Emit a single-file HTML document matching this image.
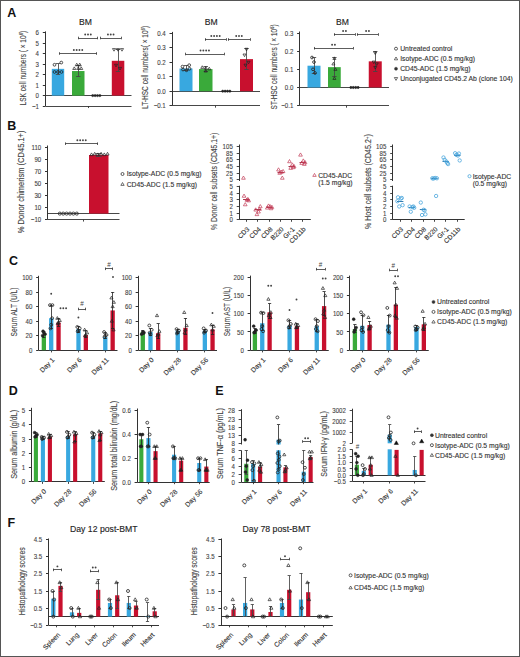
<!DOCTYPE html>
<html><head><meta charset="utf-8"><style>
html,body{margin:0;padding:0;background:#fff;}
svg{display:block;font-family:"Liberation Sans", sans-serif;}
</style></head><body>
<svg width="520" height="657" viewBox="0 0 520 657" font-family='"Liberation Sans", sans-serif'>
<rect x="0" y="0" width="520" height="657" fill="#fff"/>
<text x="7.20" y="17.20" font-size="12.5" text-anchor="start" fill="#111" font-weight="bold">A</text>
<line x1="45.50" y1="31.40" x2="45.50" y2="106.05" stroke="#333" stroke-width="1.0"/>
<line x1="42.80" y1="106.50" x2="45.40" y2="106.50" stroke="#333" stroke-width="1.0"/>
<text x="39.00" y="108.61" font-size="7.1" text-anchor="end" fill="#444" font-weight="normal" stroke="#444" stroke-width="0.12" textLength="6.96" lengthAdjust="spacingAndGlyphs">&#8722;1</text>
<line x1="42.80" y1="95.50" x2="45.40" y2="95.50" stroke="#333" stroke-width="1.0"/>
<text x="39.00" y="98.16" font-size="7.1" text-anchor="end" fill="#444" font-weight="normal" stroke="#444" stroke-width="0.12" textLength="3.4" lengthAdjust="spacingAndGlyphs">0</text>
<line x1="42.80" y1="85.50" x2="45.40" y2="85.50" stroke="#333" stroke-width="1.0"/>
<text x="39.00" y="87.71" font-size="7.1" text-anchor="end" fill="#444" font-weight="normal" stroke="#444" stroke-width="0.12" textLength="3.4" lengthAdjust="spacingAndGlyphs">1</text>
<line x1="42.80" y1="74.50" x2="45.40" y2="74.50" stroke="#333" stroke-width="1.0"/>
<text x="39.00" y="77.26" font-size="7.1" text-anchor="end" fill="#444" font-weight="normal" stroke="#444" stroke-width="0.12" textLength="3.4" lengthAdjust="spacingAndGlyphs">2</text>
<line x1="42.80" y1="64.50" x2="45.40" y2="64.50" stroke="#333" stroke-width="1.0"/>
<text x="39.00" y="66.81" font-size="7.1" text-anchor="end" fill="#444" font-weight="normal" stroke="#444" stroke-width="0.12" textLength="3.4" lengthAdjust="spacingAndGlyphs">3</text>
<line x1="42.80" y1="53.50" x2="45.40" y2="53.50" stroke="#333" stroke-width="1.0"/>
<text x="39.00" y="56.36" font-size="7.1" text-anchor="end" fill="#444" font-weight="normal" stroke="#444" stroke-width="0.12" textLength="3.4" lengthAdjust="spacingAndGlyphs">4</text>
<line x1="42.80" y1="43.50" x2="45.40" y2="43.50" stroke="#333" stroke-width="1.0"/>
<text x="39.00" y="45.91" font-size="7.1" text-anchor="end" fill="#444" font-weight="normal" stroke="#444" stroke-width="0.12" textLength="3.4" lengthAdjust="spacingAndGlyphs">5</text>
<line x1="42.80" y1="32.50" x2="45.40" y2="32.50" stroke="#333" stroke-width="1.0"/>
<text x="39.00" y="35.46" font-size="7.1" text-anchor="end" fill="#444" font-weight="normal" stroke="#444" stroke-width="0.12" textLength="3.4" lengthAdjust="spacingAndGlyphs">6</text>
<line x1="45.40" y1="95.50" x2="131.50" y2="95.50" stroke="#333" stroke-width="0.9"/>
<line x1="45.40" y1="106.50" x2="131.50" y2="106.50" stroke="#333" stroke-width="0.9"/>
<line x1="88.50" y1="106.05" x2="88.50" y2="108.05" stroke="#333" stroke-width="0.9"/>
<text x="85.50" y="25.20" font-size="8.6" text-anchor="middle" fill="#222" font-weight="normal" stroke="#222" stroke-width="0.12">BM</text>
<text x="26.10" y="68.10" font-size="8.6" text-anchor="middle" fill="#444" font-weight="normal" stroke="#444" stroke-width="0.12" transform="rotate(-90 26.10 68.10)" textLength="74.6" lengthAdjust="spacingAndGlyphs">LSK cell numbers ( × 10<tspan font-size="5.6" dy="-2.8">6</tspan><tspan dy="2.8">)</tspan></text>
<rect x="51.80" y="68.85" width="12.40" height="26.75" fill="#38a8e0"/>
<rect x="72.00" y="71.04" width="12.50" height="24.56" fill="#3aaa3a"/>
<rect x="111.80" y="60.80" width="12.50" height="34.80" fill="#c8102e"/>
<line x1="58.50" y1="74.07" x2="58.50" y2="63.73" stroke="#444" stroke-width="0.85"/>
<line x1="55.80" y1="63.50" x2="60.20" y2="63.50" stroke="#444" stroke-width="0.85"/>
<line x1="55.80" y1="74.50" x2="60.20" y2="74.50" stroke="#444" stroke-width="0.85"/>
<line x1="78.50" y1="76.79" x2="78.50" y2="65.30" stroke="#444" stroke-width="0.85"/>
<line x1="76.05" y1="65.50" x2="80.45" y2="65.50" stroke="#444" stroke-width="0.85"/>
<line x1="76.05" y1="76.50" x2="80.45" y2="76.50" stroke="#444" stroke-width="0.85"/>
<line x1="118.50" y1="71.56" x2="118.50" y2="49.62" stroke="#444" stroke-width="0.85"/>
<line x1="115.80" y1="49.50" x2="120.20" y2="49.50" stroke="#444" stroke-width="0.85"/>
<line x1="115.80" y1="71.50" x2="120.20" y2="71.50" stroke="#444" stroke-width="0.85"/>
<circle cx="54.50" cy="64.77" r="1.38" fill="none" stroke="#222" stroke-width="0.8"/>
<circle cx="61.30" cy="62.58" r="1.38" fill="none" stroke="#222" stroke-width="0.8"/>
<circle cx="54.50" cy="71.98" r="1.38" fill="none" stroke="#222" stroke-width="0.8"/>
<circle cx="58.00" cy="71.98" r="1.38" fill="none" stroke="#222" stroke-width="0.8"/>
<circle cx="61.50" cy="71.98" r="1.38" fill="none" stroke="#222" stroke-width="0.8"/>
<path d="M76.75 63.20 L78.27 65.82 L75.23 65.82 Z" fill="none" stroke="#222" stroke-width="0.7"/>
<path d="M79.75 63.20 L81.27 65.82 L78.23 65.82 Z" fill="none" stroke="#222" stroke-width="0.7"/>
<path d="M74.25 66.86 L75.77 69.48 L72.73 69.48 Z" fill="none" stroke="#222" stroke-width="0.7"/>
<path d="M78.25 66.86 L79.77 69.48 L76.73 69.48 Z" fill="none" stroke="#222" stroke-width="0.7"/>
<path d="M81.25 66.86 L82.77 69.48 L79.73 69.48 Z" fill="none" stroke="#222" stroke-width="0.7"/>
<circle cx="92.70" cy="95.60" r="1.14" fill="#222" stroke="#222" stroke-width="0.5"/>
<circle cx="95.10" cy="95.60" r="1.14" fill="#222" stroke="#222" stroke-width="0.5"/>
<circle cx="97.50" cy="95.60" r="1.14" fill="#222" stroke="#222" stroke-width="0.5"/>
<circle cx="99.90" cy="95.60" r="1.14" fill="#222" stroke="#222" stroke-width="0.5"/>
<path d="M114.00 51.19 L115.52 48.57 L112.48 48.57 Z" fill="none" stroke="#222" stroke-width="0.7"/>
<path d="M118.00 51.19 L119.52 48.57 L116.48 48.57 Z" fill="none" stroke="#222" stroke-width="0.7"/>
<path d="M122.00 51.19 L123.52 48.57 L120.48 48.57 Z" fill="none" stroke="#222" stroke-width="0.7"/>
<path d="M116.00 66.87 L117.52 64.25 L114.48 64.25 Z" fill="none" stroke="#222" stroke-width="0.7"/>
<path d="M120.00 70.00 L121.52 67.38 L118.48 67.38 Z" fill="none" stroke="#222" stroke-width="0.7"/>
<line x1="59.40" y1="53.50" x2="96.70" y2="53.50" stroke="#333" stroke-width="0.8"/>
<line x1="59.50" y1="52.20" x2="59.50" y2="54.80" stroke="#333" stroke-width="0.8"/>
<line x1="96.50" y1="52.20" x2="96.50" y2="54.80" stroke="#333" stroke-width="0.8"/>
<circle cx="73.85" cy="50.00" r="0.95" fill="#444"/>
<circle cx="76.65" cy="50.00" r="0.95" fill="#444"/>
<circle cx="79.45" cy="50.00" r="0.95" fill="#444"/>
<circle cx="82.25" cy="50.00" r="0.95" fill="#444"/>
<line x1="78.40" y1="38.50" x2="97.60" y2="38.50" stroke="#333" stroke-width="0.8"/>
<line x1="78.50" y1="36.70" x2="78.50" y2="39.30" stroke="#333" stroke-width="0.8"/>
<line x1="97.50" y1="36.70" x2="97.50" y2="39.30" stroke="#333" stroke-width="0.8"/>
<circle cx="85.20" cy="34.50" r="0.95" fill="#444"/>
<circle cx="88.00" cy="34.50" r="0.95" fill="#444"/>
<circle cx="90.80" cy="34.50" r="0.95" fill="#444"/>
<line x1="100.50" y1="38.50" x2="121.00" y2="38.50" stroke="#333" stroke-width="0.8"/>
<line x1="100.50" y1="36.70" x2="100.50" y2="39.30" stroke="#333" stroke-width="0.8"/>
<line x1="121.50" y1="36.70" x2="121.50" y2="39.30" stroke="#333" stroke-width="0.8"/>
<circle cx="107.95" cy="34.50" r="0.95" fill="#444"/>
<circle cx="110.75" cy="34.50" r="0.95" fill="#444"/>
<circle cx="113.55" cy="34.50" r="0.95" fill="#444"/>
<line x1="172.50" y1="31.90" x2="172.50" y2="105.65" stroke="#333" stroke-width="1.0"/>
<line x1="169.50" y1="33.50" x2="172.10" y2="33.50" stroke="#333" stroke-width="1.0"/>
<text x="165.70" y="35.96" font-size="7.1" text-anchor="end" fill="#444" font-weight="normal" stroke="#444" stroke-width="0.12" textLength="8.49" lengthAdjust="spacingAndGlyphs">0.4</text>
<line x1="169.50" y1="47.50" x2="172.10" y2="47.50" stroke="#333" stroke-width="1.0"/>
<text x="165.70" y="50.41" font-size="7.1" text-anchor="end" fill="#444" font-weight="normal" stroke="#444" stroke-width="0.12" textLength="8.49" lengthAdjust="spacingAndGlyphs">0.3</text>
<line x1="169.50" y1="62.50" x2="172.10" y2="62.50" stroke="#333" stroke-width="1.0"/>
<text x="165.70" y="64.86" font-size="7.1" text-anchor="end" fill="#444" font-weight="normal" stroke="#444" stroke-width="0.12" textLength="8.49" lengthAdjust="spacingAndGlyphs">0.2</text>
<line x1="169.50" y1="76.50" x2="172.10" y2="76.50" stroke="#333" stroke-width="1.0"/>
<text x="165.70" y="79.31" font-size="7.1" text-anchor="end" fill="#444" font-weight="normal" stroke="#444" stroke-width="0.12" textLength="8.49" lengthAdjust="spacingAndGlyphs">0.1</text>
<line x1="169.50" y1="91.50" x2="172.10" y2="91.50" stroke="#333" stroke-width="1.0"/>
<text x="165.70" y="93.76" font-size="7.1" text-anchor="end" fill="#444" font-weight="normal" stroke="#444" stroke-width="0.12" textLength="8.49" lengthAdjust="spacingAndGlyphs">0.0</text>
<line x1="169.50" y1="105.50" x2="172.10" y2="105.50" stroke="#333" stroke-width="1.0"/>
<text x="165.70" y="108.21" font-size="7.1" text-anchor="end" fill="#444" font-weight="normal" stroke="#444" stroke-width="0.12" textLength="12.05" lengthAdjust="spacingAndGlyphs">&#8722;0.1</text>
<line x1="172.10" y1="91.50" x2="260.00" y2="91.50" stroke="#333" stroke-width="0.9"/>
<line x1="172.10" y1="105.50" x2="260.00" y2="105.50" stroke="#333" stroke-width="0.9"/>
<line x1="215.50" y1="105.65" x2="215.50" y2="107.65" stroke="#333" stroke-width="0.9"/>
<text x="211.30" y="25.20" font-size="8.6" text-anchor="middle" fill="#222" font-weight="normal" stroke="#222" stroke-width="0.12">BM</text>
<text x="148.00" y="67.40" font-size="8.6" text-anchor="middle" fill="#444" font-weight="normal" stroke="#444" stroke-width="0.12" transform="rotate(-90 148.00 67.40)" textLength="83" lengthAdjust="spacingAndGlyphs">LT-HSC cell numbers( × 10<tspan font-size="5.6" dy="-2.8">6</tspan><tspan dy="2.8">)</tspan></text>
<rect x="179.50" y="68.51" width="13.00" height="22.69" fill="#38a8e0"/>
<rect x="199.00" y="69.09" width="13.50" height="22.11" fill="#3aaa3a"/>
<rect x="240.00" y="59.12" width="13.00" height="32.08" fill="#c8102e"/>
<line x1="186.50" y1="70.97" x2="186.50" y2="65.19" stroke="#444" stroke-width="0.85"/>
<line x1="183.80" y1="65.50" x2="188.20" y2="65.50" stroke="#444" stroke-width="0.85"/>
<line x1="183.80" y1="70.50" x2="188.20" y2="70.50" stroke="#444" stroke-width="0.85"/>
<line x1="205.50" y1="71.69" x2="205.50" y2="66.63" stroke="#444" stroke-width="0.85"/>
<line x1="203.55" y1="66.50" x2="207.95" y2="66.50" stroke="#444" stroke-width="0.85"/>
<line x1="203.55" y1="71.50" x2="207.95" y2="71.50" stroke="#444" stroke-width="0.85"/>
<line x1="246.50" y1="69.53" x2="246.50" y2="48.57" stroke="#444" stroke-width="0.85"/>
<line x1="244.30" y1="48.50" x2="248.70" y2="48.50" stroke="#444" stroke-width="0.85"/>
<line x1="244.30" y1="69.50" x2="248.70" y2="69.50" stroke="#444" stroke-width="0.85"/>
<circle cx="182.50" cy="66.63" r="1.38" fill="none" stroke="#222" stroke-width="0.8"/>
<circle cx="189.20" cy="65.19" r="1.38" fill="none" stroke="#222" stroke-width="0.8"/>
<circle cx="183.00" cy="69.53" r="1.38" fill="none" stroke="#222" stroke-width="0.8"/>
<circle cx="186.50" cy="70.25" r="1.38" fill="none" stroke="#222" stroke-width="0.8"/>
<circle cx="189.50" cy="68.80" r="1.38" fill="none" stroke="#222" stroke-width="0.8"/>
<path d="M202.25 65.78 L203.77 68.41 L200.73 68.41 Z" fill="none" stroke="#222" stroke-width="0.7"/>
<path d="M205.75 66.51 L207.27 69.13 L204.23 69.13 Z" fill="none" stroke="#222" stroke-width="0.7"/>
<path d="M209.25 67.23 L210.77 69.85 L207.73 69.85 Z" fill="none" stroke="#222" stroke-width="0.7"/>
<path d="M205.75 69.40 L207.27 72.02 L204.23 72.02 Z" fill="none" stroke="#222" stroke-width="0.7"/>
<circle cx="222.70" cy="91.20" r="1.14" fill="#222" stroke="#222" stroke-width="0.5"/>
<circle cx="225.10" cy="91.20" r="1.14" fill="#222" stroke="#222" stroke-width="0.5"/>
<circle cx="227.50" cy="91.20" r="1.14" fill="#222" stroke="#222" stroke-width="0.5"/>
<circle cx="229.90" cy="91.20" r="1.14" fill="#222" stroke="#222" stroke-width="0.5"/>
<path d="M246.50 50.87 L248.02 48.25 L244.98 48.25 Z" fill="none" stroke="#222" stroke-width="0.7"/>
<path d="M244.50 56.65 L246.02 54.03 L242.98 54.03 Z" fill="none" stroke="#222" stroke-width="0.7"/>
<path d="M248.50 63.87 L250.02 61.25 L246.98 61.25 Z" fill="none" stroke="#222" stroke-width="0.7"/>
<path d="M245.50 66.76 L247.02 64.14 L243.98 64.14 Z" fill="none" stroke="#222" stroke-width="0.7"/>
<line x1="185.50" y1="54.50" x2="224.00" y2="54.50" stroke="#333" stroke-width="0.8"/>
<line x1="185.50" y1="52.70" x2="185.50" y2="55.30" stroke="#333" stroke-width="0.8"/>
<line x1="224.50" y1="52.70" x2="224.50" y2="55.30" stroke="#333" stroke-width="0.8"/>
<circle cx="200.55" cy="50.50" r="0.95" fill="#444"/>
<circle cx="203.35" cy="50.50" r="0.95" fill="#444"/>
<circle cx="206.15" cy="50.50" r="0.95" fill="#444"/>
<circle cx="208.95" cy="50.50" r="0.95" fill="#444"/>
<line x1="205.00" y1="39.50" x2="226.00" y2="39.50" stroke="#333" stroke-width="0.8"/>
<line x1="205.50" y1="38.20" x2="205.50" y2="40.80" stroke="#333" stroke-width="0.8"/>
<line x1="226.50" y1="38.20" x2="226.50" y2="40.80" stroke="#333" stroke-width="0.8"/>
<circle cx="211.30" cy="36.00" r="0.95" fill="#444"/>
<circle cx="214.10" cy="36.00" r="0.95" fill="#444"/>
<circle cx="216.90" cy="36.00" r="0.95" fill="#444"/>
<circle cx="219.70" cy="36.00" r="0.95" fill="#444"/>
<line x1="228.00" y1="39.50" x2="250.00" y2="39.50" stroke="#333" stroke-width="0.8"/>
<line x1="228.50" y1="38.20" x2="228.50" y2="40.80" stroke="#333" stroke-width="0.8"/>
<line x1="250.50" y1="38.20" x2="250.50" y2="40.80" stroke="#333" stroke-width="0.8"/>
<circle cx="236.20" cy="36.00" r="0.95" fill="#444"/>
<circle cx="239.00" cy="36.00" r="0.95" fill="#444"/>
<circle cx="241.80" cy="36.00" r="0.95" fill="#444"/>
<line x1="299.50" y1="31.50" x2="299.50" y2="105.67" stroke="#333" stroke-width="1.0"/>
<line x1="297.10" y1="33.50" x2="299.70" y2="33.50" stroke="#333" stroke-width="1.0"/>
<text x="293.30" y="35.56" font-size="7.1" text-anchor="end" fill="#444" font-weight="normal" stroke="#444" stroke-width="0.12" textLength="8.49" lengthAdjust="spacingAndGlyphs">0.3</text>
<line x1="297.10" y1="51.50" x2="299.70" y2="51.50" stroke="#333" stroke-width="1.0"/>
<text x="293.30" y="53.72" font-size="7.1" text-anchor="end" fill="#444" font-weight="normal" stroke="#444" stroke-width="0.12" textLength="8.49" lengthAdjust="spacingAndGlyphs">0.2</text>
<line x1="297.10" y1="69.50" x2="299.70" y2="69.50" stroke="#333" stroke-width="1.0"/>
<text x="293.30" y="71.89" font-size="7.1" text-anchor="end" fill="#444" font-weight="normal" stroke="#444" stroke-width="0.12" textLength="8.49" lengthAdjust="spacingAndGlyphs">0.1</text>
<line x1="297.10" y1="87.50" x2="299.70" y2="87.50" stroke="#333" stroke-width="1.0"/>
<text x="293.30" y="90.06" font-size="7.1" text-anchor="end" fill="#444" font-weight="normal" stroke="#444" stroke-width="0.12" textLength="8.49" lengthAdjust="spacingAndGlyphs">0.0</text>
<line x1="297.10" y1="105.50" x2="299.70" y2="105.50" stroke="#333" stroke-width="1.0"/>
<text x="293.30" y="108.22" font-size="7.1" text-anchor="end" fill="#444" font-weight="normal" stroke="#444" stroke-width="0.12" textLength="12.05" lengthAdjust="spacingAndGlyphs">&#8722;0.1</text>
<line x1="299.70" y1="87.50" x2="389.00" y2="87.50" stroke="#333" stroke-width="0.9"/>
<line x1="299.70" y1="105.50" x2="389.00" y2="105.50" stroke="#333" stroke-width="0.9"/>
<line x1="346.50" y1="105.67" x2="346.50" y2="107.67" stroke="#333" stroke-width="0.9"/>
<text x="342.50" y="25.20" font-size="8.6" text-anchor="middle" fill="#222" font-weight="normal" stroke="#222" stroke-width="0.12">BM</text>
<text x="277.10" y="66.90" font-size="8.6" text-anchor="middle" fill="#444" font-weight="normal" stroke="#444" stroke-width="0.12" transform="rotate(-90 277.10 66.90)" textLength="85" lengthAdjust="spacingAndGlyphs">ST-HSC cell numbers ( × 10<tspan font-size="5.6" dy="-2.8">6</tspan><tspan dy="2.8">)</tspan></text>
<rect x="307.50" y="65.70" width="13.00" height="21.80" fill="#38a8e0"/>
<rect x="328.00" y="67.15" width="12.75" height="20.35" fill="#3aaa3a"/>
<rect x="368.75" y="61.34" width="13.00" height="26.16" fill="#c8102e"/>
<line x1="314.50" y1="73.88" x2="314.50" y2="57.52" stroke="#444" stroke-width="0.85"/>
<line x1="311.80" y1="57.50" x2="316.20" y2="57.50" stroke="#444" stroke-width="0.85"/>
<line x1="311.80" y1="73.50" x2="316.20" y2="73.50" stroke="#444" stroke-width="0.85"/>
<line x1="334.50" y1="76.60" x2="334.50" y2="57.52" stroke="#444" stroke-width="0.85"/>
<line x1="332.20" y1="57.50" x2="336.60" y2="57.50" stroke="#444" stroke-width="0.85"/>
<line x1="332.20" y1="76.50" x2="336.60" y2="76.50" stroke="#444" stroke-width="0.85"/>
<line x1="375.50" y1="71.15" x2="375.50" y2="51.17" stroke="#444" stroke-width="0.85"/>
<line x1="373.05" y1="51.50" x2="377.45" y2="51.50" stroke="#444" stroke-width="0.85"/>
<line x1="373.05" y1="71.50" x2="377.45" y2="71.50" stroke="#444" stroke-width="0.85"/>
<circle cx="312.00" cy="57.52" r="1.38" fill="none" stroke="#222" stroke-width="0.8"/>
<circle cx="314.00" cy="62.07" r="1.38" fill="none" stroke="#222" stroke-width="0.8"/>
<circle cx="313.00" cy="69.33" r="1.38" fill="none" stroke="#222" stroke-width="0.8"/>
<circle cx="315.00" cy="72.97" r="1.38" fill="none" stroke="#222" stroke-width="0.8"/>
<path d="M334.40 56.86 L335.92 59.48 L332.88 59.48 Z" fill="none" stroke="#222" stroke-width="0.7"/>
<path d="M333.40 62.31 L334.92 64.93 L331.88 64.93 Z" fill="none" stroke="#222" stroke-width="0.7"/>
<path d="M335.40 67.76 L336.92 70.38 L333.88 70.38 Z" fill="none" stroke="#222" stroke-width="0.7"/>
<path d="M334.40 76.84 L335.92 79.47 L332.88 79.47 Z" fill="none" stroke="#222" stroke-width="0.7"/>
<circle cx="350.90" cy="87.50" r="1.14" fill="#222" stroke="#222" stroke-width="0.5"/>
<circle cx="353.30" cy="87.50" r="1.14" fill="#222" stroke="#222" stroke-width="0.5"/>
<circle cx="355.70" cy="87.50" r="1.14" fill="#222" stroke="#222" stroke-width="0.5"/>
<circle cx="358.10" cy="87.50" r="1.14" fill="#222" stroke="#222" stroke-width="0.5"/>
<path d="M375.25 54.56 L376.77 51.93 L373.73 51.93 Z" fill="none" stroke="#222" stroke-width="0.7"/>
<path d="M373.75 63.64 L375.27 61.02 L372.23 61.02 Z" fill="none" stroke="#222" stroke-width="0.7"/>
<path d="M376.75 65.46 L378.27 62.83 L375.23 62.83 Z" fill="none" stroke="#222" stroke-width="0.7"/>
<path d="M375.25 69.09 L376.77 66.47 L373.73 66.47 Z" fill="none" stroke="#222" stroke-width="0.7"/>
<line x1="314.00" y1="48.50" x2="353.00" y2="48.50" stroke="#333" stroke-width="0.8"/>
<line x1="314.50" y1="46.95" x2="314.50" y2="49.55" stroke="#333" stroke-width="0.8"/>
<line x1="353.50" y1="46.95" x2="353.50" y2="49.55" stroke="#333" stroke-width="0.8"/>
<circle cx="332.10" cy="44.75" r="0.95" fill="#444"/>
<circle cx="334.90" cy="44.75" r="0.95" fill="#444"/>
<line x1="334.00" y1="34.50" x2="355.00" y2="34.50" stroke="#333" stroke-width="0.8"/>
<line x1="334.50" y1="33.20" x2="334.50" y2="35.80" stroke="#333" stroke-width="0.8"/>
<line x1="355.50" y1="33.20" x2="355.50" y2="35.80" stroke="#333" stroke-width="0.8"/>
<circle cx="343.10" cy="31.00" r="0.95" fill="#444"/>
<circle cx="345.90" cy="31.00" r="0.95" fill="#444"/>
<line x1="357.00" y1="34.50" x2="378.00" y2="34.50" stroke="#333" stroke-width="0.8"/>
<line x1="357.50" y1="33.20" x2="357.50" y2="35.80" stroke="#333" stroke-width="0.8"/>
<line x1="378.50" y1="33.20" x2="378.50" y2="35.80" stroke="#333" stroke-width="0.8"/>
<circle cx="366.10" cy="31.00" r="0.95" fill="#444"/>
<circle cx="368.90" cy="31.00" r="0.95" fill="#444"/>
<circle cx="396.00" cy="48.70" r="1.5" fill="none" stroke="#333" stroke-width="0.8"/>
<text x="400.20" y="51.00" font-size="6.8" text-anchor="start" fill="#333" font-weight="normal" stroke="#333" stroke-width="0.12">Untreated control</text>
<path d="M396.00 56.99 L397.65 59.84 L394.35 59.84 Z" fill="none" stroke="#333" stroke-width="0.7"/>
<text x="400.20" y="61.00" font-size="6.8" text-anchor="start" fill="#333" font-weight="normal" stroke="#333" stroke-width="0.12">Isotype-ADC (0.5 mg/kg)</text>
<circle cx="396.00" cy="68.70" r="1.5" fill="#333" stroke="#333" stroke-width="0.5"/>
<text x="400.20" y="71.00" font-size="6.8" text-anchor="start" fill="#333" font-weight="normal" stroke="#333" stroke-width="0.12">CD45-ADC (1.5 mg/kg)</text>
<path d="M396.00 80.41 L397.65 77.56 L394.35 77.56 Z" fill="none" stroke="#333" stroke-width="0.7"/>
<text x="400.20" y="81.00" font-size="6.8" text-anchor="start" fill="#333" font-weight="normal" stroke="#333" stroke-width="0.12">Unconjugated CD45.2 Ab (clone 104)</text>
<text x="7.20" y="129.60" font-size="12.5" text-anchor="start" fill="#111" font-weight="bold">B</text>
<line x1="47.50" y1="145.50" x2="47.50" y2="219.59" stroke="#333" stroke-width="1.0"/>
<line x1="45.00" y1="147.50" x2="47.60" y2="147.50" stroke="#333" stroke-width="1.0"/>
<text x="41.20" y="150.21" font-size="7.1" text-anchor="end" fill="#444" font-weight="normal" stroke="#444" stroke-width="0.12" textLength="9.73" lengthAdjust="spacingAndGlyphs">110</text>
<line x1="45.00" y1="159.50" x2="47.60" y2="159.50" stroke="#333" stroke-width="1.0"/>
<text x="41.20" y="162.20" font-size="7.1" text-anchor="end" fill="#444" font-weight="normal" stroke="#444" stroke-width="0.12" textLength="6.79" lengthAdjust="spacingAndGlyphs">90</text>
<line x1="45.00" y1="171.50" x2="47.60" y2="171.50" stroke="#333" stroke-width="1.0"/>
<text x="41.20" y="174.19" font-size="7.1" text-anchor="end" fill="#444" font-weight="normal" stroke="#444" stroke-width="0.12" textLength="6.79" lengthAdjust="spacingAndGlyphs">70</text>
<line x1="45.00" y1="183.50" x2="47.60" y2="183.50" stroke="#333" stroke-width="1.0"/>
<text x="41.20" y="186.18" font-size="7.1" text-anchor="end" fill="#444" font-weight="normal" stroke="#444" stroke-width="0.12" textLength="6.79" lengthAdjust="spacingAndGlyphs">50</text>
<line x1="45.00" y1="195.50" x2="47.60" y2="195.50" stroke="#333" stroke-width="1.0"/>
<text x="41.20" y="198.17" font-size="7.1" text-anchor="end" fill="#444" font-weight="normal" stroke="#444" stroke-width="0.12" textLength="6.79" lengthAdjust="spacingAndGlyphs">30</text>
<line x1="45.00" y1="207.50" x2="47.60" y2="207.50" stroke="#333" stroke-width="1.0"/>
<text x="41.20" y="210.16" font-size="7.1" text-anchor="end" fill="#444" font-weight="normal" stroke="#444" stroke-width="0.12" textLength="6.79" lengthAdjust="spacingAndGlyphs">10</text>
<line x1="45.00" y1="219.50" x2="47.60" y2="219.50" stroke="#333" stroke-width="1.0"/>
<text x="41.20" y="222.15" font-size="7.1" text-anchor="end" fill="#444" font-weight="normal" stroke="#444" stroke-width="0.12" textLength="10.36" lengthAdjust="spacingAndGlyphs">&#8722;10</text>
<line x1="47.60" y1="213.50" x2="119.50" y2="213.50" stroke="#333" stroke-width="0.9"/>
<line x1="47.60" y1="219.50" x2="119.50" y2="219.50" stroke="#333" stroke-width="0.9"/>
<line x1="83.50" y1="219.59" x2="83.50" y2="221.59" stroke="#333" stroke-width="0.9"/>
<text x="24.30" y="181.85" font-size="8.6" text-anchor="middle" fill="#444" font-weight="normal" stroke="#444" stroke-width="0.12" transform="rotate(-90 24.30 181.85)" textLength="102.7" lengthAdjust="spacingAndGlyphs">% Donor chimerism (CD45.1+)</text>
<rect x="89.00" y="155.03" width="19.50" height="58.57" fill="#c8102e"/>
<line x1="98.50" y1="156.05" x2="98.50" y2="153.95" stroke="#444" stroke-width="0.85"/>
<line x1="95.75" y1="153.50" x2="101.75" y2="153.50" stroke="#444" stroke-width="0.85"/>
<line x1="95.75" y1="156.50" x2="101.75" y2="156.50" stroke="#444" stroke-width="0.85"/>
<circle cx="59.80" cy="213.60" r="1.56" fill="none" stroke="#222" stroke-width="0.8"/>
<circle cx="63.20" cy="213.60" r="1.56" fill="none" stroke="#222" stroke-width="0.8"/>
<circle cx="66.60" cy="213.60" r="1.56" fill="none" stroke="#222" stroke-width="0.8"/>
<circle cx="70.00" cy="213.60" r="1.56" fill="none" stroke="#222" stroke-width="0.8"/>
<circle cx="73.40" cy="213.60" r="1.56" fill="none" stroke="#222" stroke-width="0.8"/>
<circle cx="76.80" cy="213.60" r="1.56" fill="none" stroke="#222" stroke-width="0.8"/>
<path d="M91.50 152.91 L93.08 155.64 L89.92 155.64 Z" fill="none" stroke="#222" stroke-width="0.7"/>
<path d="M94.70 152.31 L96.28 155.04 L93.12 155.04 Z" fill="none" stroke="#222" stroke-width="0.7"/>
<path d="M97.90 152.91 L99.48 155.64 L96.32 155.64 Z" fill="none" stroke="#222" stroke-width="0.7"/>
<path d="M101.10 152.31 L102.68 155.04 L99.52 155.04 Z" fill="none" stroke="#222" stroke-width="0.7"/>
<path d="M104.30 152.91 L105.88 155.64 L102.72 155.64 Z" fill="none" stroke="#222" stroke-width="0.7"/>
<path d="M107.50 152.31 L109.08 155.04 L105.92 155.04 Z" fill="none" stroke="#222" stroke-width="0.7"/>
<line x1="65.30" y1="143.50" x2="97.80" y2="143.50" stroke="#333" stroke-width="0.8"/>
<line x1="65.50" y1="142.40" x2="65.50" y2="145.00" stroke="#333" stroke-width="0.8"/>
<line x1="97.50" y1="142.40" x2="97.50" y2="145.00" stroke="#333" stroke-width="0.8"/>
<circle cx="77.35" cy="140.20" r="0.95" fill="#444"/>
<circle cx="80.15" cy="140.20" r="0.95" fill="#444"/>
<circle cx="82.95" cy="140.20" r="0.95" fill="#444"/>
<circle cx="85.75" cy="140.20" r="0.95" fill="#444"/>
<circle cx="122.50" cy="174.00" r="1.5" fill="none" stroke="#333" stroke-width="0.8"/>
<text x="126.70" y="176.30" font-size="6.8" text-anchor="start" fill="#333" font-weight="normal" stroke="#333" stroke-width="0.12">Isotype-ADC (0.5 mg/kg)</text>
<path d="M122.50 182.54 L124.15 185.39 L120.85 185.39 Z" fill="none" stroke="#333" stroke-width="0.7"/>
<text x="126.70" y="186.55" font-size="6.8" text-anchor="start" fill="#333" font-weight="normal" stroke="#333" stroke-width="0.12">CD45-ADC (1.5 mg/kg)</text>
<line x1="239.50" y1="144.50" x2="239.50" y2="181.00" stroke="#333" stroke-width="1.0"/>
<line x1="239.50" y1="185.70" x2="239.50" y2="219.60" stroke="#333" stroke-width="1.0"/>
<line x1="236.70" y1="146.50" x2="239.30" y2="146.50" stroke="#333" stroke-width="0.9"/>
<text x="232.80" y="149.16" font-size="7.1" text-anchor="end" fill="#444" font-weight="normal" stroke="#444" stroke-width="0.12" textLength="10.19" lengthAdjust="spacingAndGlyphs">105</text>
<line x1="236.70" y1="153.50" x2="239.30" y2="153.50" stroke="#333" stroke-width="0.9"/>
<text x="232.80" y="155.76" font-size="7.1" text-anchor="end" fill="#444" font-weight="normal" stroke="#444" stroke-width="0.12" textLength="6.79" lengthAdjust="spacingAndGlyphs">85</text>
<line x1="236.70" y1="159.50" x2="239.30" y2="159.50" stroke="#333" stroke-width="0.9"/>
<text x="232.80" y="162.36" font-size="7.1" text-anchor="end" fill="#444" font-weight="normal" stroke="#444" stroke-width="0.12" textLength="6.79" lengthAdjust="spacingAndGlyphs">65</text>
<line x1="236.70" y1="166.50" x2="239.30" y2="166.50" stroke="#333" stroke-width="0.9"/>
<text x="232.80" y="168.96" font-size="7.1" text-anchor="end" fill="#444" font-weight="normal" stroke="#444" stroke-width="0.12" textLength="6.79" lengthAdjust="spacingAndGlyphs">45</text>
<line x1="236.70" y1="173.50" x2="239.30" y2="173.50" stroke="#333" stroke-width="0.9"/>
<text x="232.80" y="175.56" font-size="7.1" text-anchor="end" fill="#444" font-weight="normal" stroke="#444" stroke-width="0.12" textLength="6.79" lengthAdjust="spacingAndGlyphs">25</text>
<line x1="236.70" y1="179.50" x2="239.30" y2="179.50" stroke="#333" stroke-width="0.9"/>
<text x="232.80" y="182.16" font-size="7.1" text-anchor="end" fill="#444" font-weight="normal" stroke="#444" stroke-width="0.12" textLength="3.4" lengthAdjust="spacingAndGlyphs">5</text>
<line x1="236.70" y1="186.50" x2="239.30" y2="186.50" stroke="#333" stroke-width="0.9"/>
<text x="232.80" y="189.36" font-size="7.1" text-anchor="end" fill="#444" font-weight="normal" stroke="#444" stroke-width="0.12" textLength="3.4" lengthAdjust="spacingAndGlyphs">5</text>
<line x1="236.70" y1="193.50" x2="239.30" y2="193.50" stroke="#333" stroke-width="0.9"/>
<text x="232.80" y="195.92" font-size="7.1" text-anchor="end" fill="#444" font-weight="normal" stroke="#444" stroke-width="0.12" textLength="3.4" lengthAdjust="spacingAndGlyphs">4</text>
<line x1="236.70" y1="199.50" x2="239.30" y2="199.50" stroke="#333" stroke-width="0.9"/>
<text x="232.80" y="202.48" font-size="7.1" text-anchor="end" fill="#444" font-weight="normal" stroke="#444" stroke-width="0.12" textLength="3.4" lengthAdjust="spacingAndGlyphs">3</text>
<line x1="236.70" y1="206.50" x2="239.30" y2="206.50" stroke="#333" stroke-width="0.9"/>
<text x="232.80" y="209.04" font-size="7.1" text-anchor="end" fill="#444" font-weight="normal" stroke="#444" stroke-width="0.12" textLength="3.4" lengthAdjust="spacingAndGlyphs">2</text>
<line x1="236.70" y1="213.50" x2="239.30" y2="213.50" stroke="#333" stroke-width="0.9"/>
<text x="232.80" y="215.60" font-size="7.1" text-anchor="end" fill="#444" font-weight="normal" stroke="#444" stroke-width="0.12" textLength="3.4" lengthAdjust="spacingAndGlyphs">1</text>
<line x1="236.70" y1="219.50" x2="239.30" y2="219.50" stroke="#333" stroke-width="0.9"/>
<text x="232.80" y="222.16" font-size="7.1" text-anchor="end" fill="#444" font-weight="normal" stroke="#444" stroke-width="0.12" textLength="3.4" lengthAdjust="spacingAndGlyphs">0</text>
<line x1="239.30" y1="219.50" x2="310.80" y2="219.50" stroke="#333" stroke-width="1.0"/>
<line x1="246.50" y1="219.60" x2="246.50" y2="221.80" stroke="#333" stroke-width="0.9"/>
<text x="249.75" y="229.60" font-size="6.6" text-anchor="end" fill="#333" font-weight="normal" stroke="#333" stroke-width="0.12" transform="rotate(-45 249.75 229.60)">CD3</text>
<line x1="257.50" y1="219.60" x2="257.50" y2="221.80" stroke="#333" stroke-width="0.9"/>
<text x="261.40" y="229.60" font-size="6.6" text-anchor="end" fill="#333" font-weight="normal" stroke="#333" stroke-width="0.12" transform="rotate(-45 261.40 229.60)">CD4</text>
<line x1="269.50" y1="219.60" x2="269.50" y2="221.80" stroke="#333" stroke-width="0.9"/>
<text x="273.00" y="229.60" font-size="6.6" text-anchor="end" fill="#333" font-weight="normal" stroke="#333" stroke-width="0.12" transform="rotate(-45 273.00 229.60)">CD8</text>
<line x1="280.50" y1="219.60" x2="280.50" y2="221.80" stroke="#333" stroke-width="0.9"/>
<text x="284.20" y="229.60" font-size="6.6" text-anchor="end" fill="#333" font-weight="normal" stroke="#333" stroke-width="0.12" transform="rotate(-45 284.20 229.60)">B220</text>
<line x1="291.50" y1="219.60" x2="291.50" y2="221.80" stroke="#333" stroke-width="0.9"/>
<text x="295.20" y="229.60" font-size="6.6" text-anchor="end" fill="#333" font-weight="normal" stroke="#333" stroke-width="0.12" transform="rotate(-45 295.20 229.60)">Gr-1</text>
<line x1="302.50" y1="219.60" x2="302.50" y2="221.80" stroke="#333" stroke-width="0.9"/>
<text x="306.20" y="229.60" font-size="6.6" text-anchor="end" fill="#333" font-weight="normal" stroke="#333" stroke-width="0.12" transform="rotate(-45 306.20 229.60)">CD11b</text>
<text x="216.90" y="181.30" font-size="8.6" text-anchor="middle" fill="#444" font-weight="normal" stroke="#444" stroke-width="0.12" transform="rotate(-90 216.90 181.30)" textLength="97.2" lengthAdjust="spacingAndGlyphs">% Donor cell subsets (CD45.1+)</text>
<line x1="243.05" y1="199.50" x2="249.45" y2="199.50" stroke="#a0203a" stroke-width="0.9"/>
<path d="M244.05 194.07 L245.90 197.26 L242.20 197.26 Z" fill="none" stroke="#c23a55" stroke-width="0.7"/>
<path d="M246.85 198.00 L248.70 201.20 L245.00 201.20 Z" fill="none" stroke="#c23a55" stroke-width="0.7"/>
<path d="M248.65 198.66 L250.50 201.85 L246.80 201.85 Z" fill="none" stroke="#c23a55" stroke-width="0.7"/>
<path d="M245.25 202.60 L247.10 205.79 L243.40 205.79 Z" fill="none" stroke="#c23a55" stroke-width="0.7"/>
<path d="M247.85 197.35 L249.70 200.54 L246.00 200.54 Z" fill="none" stroke="#c23a55" stroke-width="0.7"/>
<path d="M243.45 176.03 L245.30 179.23 L241.60 179.23 Z" fill="none" stroke="#c23a55" stroke-width="0.7"/>
<line x1="254.70" y1="209.50" x2="261.10" y2="209.50" stroke="#a0203a" stroke-width="0.9"/>
<path d="M255.70 207.84 L257.55 211.04 L253.85 211.04 Z" fill="none" stroke="#c23a55" stroke-width="0.7"/>
<path d="M258.50 209.81 L260.35 213.00 L256.65 213.00 Z" fill="none" stroke="#c23a55" stroke-width="0.7"/>
<path d="M260.30 204.56 L262.15 207.76 L258.45 207.76 Z" fill="none" stroke="#c23a55" stroke-width="0.7"/>
<path d="M256.90 212.44 L258.75 215.63 L255.05 215.63 Z" fill="none" stroke="#c23a55" stroke-width="0.7"/>
<path d="M259.50 207.19 L261.35 210.38 L257.65 210.38 Z" fill="none" stroke="#c23a55" stroke-width="0.7"/>
<line x1="266.30" y1="207.50" x2="272.70" y2="207.50" stroke="#a0203a" stroke-width="0.9"/>
<path d="M267.30 205.88 L269.15 209.07 L265.45 209.07 Z" fill="none" stroke="#c23a55" stroke-width="0.7"/>
<path d="M270.10 204.56 L271.95 207.76 L268.25 207.76 Z" fill="none" stroke="#c23a55" stroke-width="0.7"/>
<path d="M271.90 205.22 L273.75 208.41 L270.05 208.41 Z" fill="none" stroke="#c23a55" stroke-width="0.7"/>
<path d="M268.50 203.91 L270.35 207.10 L266.65 207.10 Z" fill="none" stroke="#c23a55" stroke-width="0.7"/>
<path d="M271.10 206.53 L272.95 209.72 L269.25 209.72 Z" fill="none" stroke="#c23a55" stroke-width="0.7"/>
<line x1="277.50" y1="172.50" x2="283.90" y2="172.50" stroke="#a0203a" stroke-width="0.9"/>
<path d="M278.50 167.78 L280.35 170.98 L276.65 170.98 Z" fill="none" stroke="#c23a55" stroke-width="0.7"/>
<path d="M281.30 170.09 L283.15 173.29 L279.45 173.29 Z" fill="none" stroke="#c23a55" stroke-width="0.7"/>
<path d="M283.10 169.43 L284.95 172.63 L281.25 172.63 Z" fill="none" stroke="#c23a55" stroke-width="0.7"/>
<path d="M279.70 171.08 L281.55 174.28 L277.85 174.28 Z" fill="none" stroke="#c23a55" stroke-width="0.7"/>
<path d="M282.30 176.03 L284.15 179.23 L280.45 179.23 Z" fill="none" stroke="#c23a55" stroke-width="0.7"/>
<line x1="288.50" y1="166.50" x2="294.90" y2="166.50" stroke="#a0203a" stroke-width="0.9"/>
<path d="M289.50 159.53 L291.35 162.73 L287.65 162.73 Z" fill="none" stroke="#c23a55" stroke-width="0.7"/>
<path d="M292.30 162.83 L294.15 166.03 L290.45 166.03 Z" fill="none" stroke="#c23a55" stroke-width="0.7"/>
<path d="M294.10 164.48 L295.95 167.68 L292.25 167.68 Z" fill="none" stroke="#c23a55" stroke-width="0.7"/>
<path d="M290.70 166.13 L292.55 169.33 L288.85 169.33 Z" fill="none" stroke="#c23a55" stroke-width="0.7"/>
<path d="M293.30 165.47 L295.15 168.67 L291.45 168.67 Z" fill="none" stroke="#c23a55" stroke-width="0.7"/>
<line x1="299.50" y1="162.50" x2="305.90" y2="162.50" stroke="#a0203a" stroke-width="0.9"/>
<path d="M300.50 152.93 L302.35 156.13 L298.65 156.13 Z" fill="none" stroke="#c23a55" stroke-width="0.7"/>
<path d="M303.30 158.87 L305.15 162.07 L301.45 162.07 Z" fill="none" stroke="#c23a55" stroke-width="0.7"/>
<path d="M305.10 160.52 L306.95 163.72 L303.25 163.72 Z" fill="none" stroke="#c23a55" stroke-width="0.7"/>
<path d="M301.70 161.18 L303.55 164.38 L299.85 164.38 Z" fill="none" stroke="#c23a55" stroke-width="0.7"/>
<path d="M304.30 162.17 L306.15 165.37 L302.45 165.37 Z" fill="none" stroke="#c23a55" stroke-width="0.7"/>
<path d="M314.50 173.42 L316.22 176.39 L312.78 176.39 Z" fill="none" stroke="#c23a55" stroke-width="0.7"/>
<text x="318.20" y="177.50" font-size="6.8" text-anchor="start" fill="#333" font-weight="normal" stroke="#333" stroke-width="0.12">CD45-ADC</text>
<text x="318.20" y="185.20" font-size="6.8" text-anchor="start" fill="#333" font-weight="normal" stroke="#333" stroke-width="0.12">(1.5 mg/kg)</text>
<line x1="392.50" y1="144.50" x2="392.50" y2="181.00" stroke="#333" stroke-width="1.0"/>
<line x1="392.50" y1="185.70" x2="392.50" y2="219.60" stroke="#333" stroke-width="1.0"/>
<line x1="390.20" y1="146.50" x2="392.80" y2="146.50" stroke="#333" stroke-width="0.9"/>
<text x="386.30" y="149.16" font-size="7.1" text-anchor="end" fill="#444" font-weight="normal" stroke="#444" stroke-width="0.12" textLength="10.19" lengthAdjust="spacingAndGlyphs">105</text>
<line x1="390.20" y1="153.50" x2="392.80" y2="153.50" stroke="#333" stroke-width="0.9"/>
<text x="386.30" y="155.76" font-size="7.1" text-anchor="end" fill="#444" font-weight="normal" stroke="#444" stroke-width="0.12" textLength="6.79" lengthAdjust="spacingAndGlyphs">85</text>
<line x1="390.20" y1="159.50" x2="392.80" y2="159.50" stroke="#333" stroke-width="0.9"/>
<text x="386.30" y="162.36" font-size="7.1" text-anchor="end" fill="#444" font-weight="normal" stroke="#444" stroke-width="0.12" textLength="6.79" lengthAdjust="spacingAndGlyphs">65</text>
<line x1="390.20" y1="166.50" x2="392.80" y2="166.50" stroke="#333" stroke-width="0.9"/>
<text x="386.30" y="168.96" font-size="7.1" text-anchor="end" fill="#444" font-weight="normal" stroke="#444" stroke-width="0.12" textLength="6.79" lengthAdjust="spacingAndGlyphs">45</text>
<line x1="390.20" y1="173.50" x2="392.80" y2="173.50" stroke="#333" stroke-width="0.9"/>
<text x="386.30" y="175.56" font-size="7.1" text-anchor="end" fill="#444" font-weight="normal" stroke="#444" stroke-width="0.12" textLength="6.79" lengthAdjust="spacingAndGlyphs">25</text>
<line x1="390.20" y1="179.50" x2="392.80" y2="179.50" stroke="#333" stroke-width="0.9"/>
<text x="386.30" y="182.16" font-size="7.1" text-anchor="end" fill="#444" font-weight="normal" stroke="#444" stroke-width="0.12" textLength="3.4" lengthAdjust="spacingAndGlyphs">5</text>
<line x1="390.20" y1="186.50" x2="392.80" y2="186.50" stroke="#333" stroke-width="0.9"/>
<text x="386.30" y="189.36" font-size="7.1" text-anchor="end" fill="#444" font-weight="normal" stroke="#444" stroke-width="0.12" textLength="3.4" lengthAdjust="spacingAndGlyphs">5</text>
<line x1="390.20" y1="193.50" x2="392.80" y2="193.50" stroke="#333" stroke-width="0.9"/>
<text x="386.30" y="195.92" font-size="7.1" text-anchor="end" fill="#444" font-weight="normal" stroke="#444" stroke-width="0.12" textLength="3.4" lengthAdjust="spacingAndGlyphs">4</text>
<line x1="390.20" y1="199.50" x2="392.80" y2="199.50" stroke="#333" stroke-width="0.9"/>
<text x="386.30" y="202.48" font-size="7.1" text-anchor="end" fill="#444" font-weight="normal" stroke="#444" stroke-width="0.12" textLength="3.4" lengthAdjust="spacingAndGlyphs">3</text>
<line x1="390.20" y1="206.50" x2="392.80" y2="206.50" stroke="#333" stroke-width="0.9"/>
<text x="386.30" y="209.04" font-size="7.1" text-anchor="end" fill="#444" font-weight="normal" stroke="#444" stroke-width="0.12" textLength="3.4" lengthAdjust="spacingAndGlyphs">2</text>
<line x1="390.20" y1="213.50" x2="392.80" y2="213.50" stroke="#333" stroke-width="0.9"/>
<text x="386.30" y="215.60" font-size="7.1" text-anchor="end" fill="#444" font-weight="normal" stroke="#444" stroke-width="0.12" textLength="3.4" lengthAdjust="spacingAndGlyphs">1</text>
<line x1="390.20" y1="219.50" x2="392.80" y2="219.50" stroke="#333" stroke-width="0.9"/>
<text x="386.30" y="222.16" font-size="7.1" text-anchor="end" fill="#444" font-weight="normal" stroke="#444" stroke-width="0.12" textLength="3.4" lengthAdjust="spacingAndGlyphs">0</text>
<line x1="392.80" y1="219.50" x2="464.70" y2="219.50" stroke="#333" stroke-width="1.0"/>
<line x1="400.50" y1="219.60" x2="400.50" y2="221.80" stroke="#333" stroke-width="0.9"/>
<text x="403.70" y="229.60" font-size="6.6" text-anchor="end" fill="#333" font-weight="normal" stroke="#333" stroke-width="0.12" transform="rotate(-45 403.70 229.60)">CD3</text>
<line x1="411.50" y1="219.60" x2="411.50" y2="221.80" stroke="#333" stroke-width="0.9"/>
<text x="415.30" y="229.60" font-size="6.6" text-anchor="end" fill="#333" font-weight="normal" stroke="#333" stroke-width="0.12" transform="rotate(-45 415.30 229.60)">CD4</text>
<line x1="423.50" y1="219.60" x2="423.50" y2="221.80" stroke="#333" stroke-width="0.9"/>
<text x="426.50" y="229.60" font-size="6.6" text-anchor="end" fill="#333" font-weight="normal" stroke="#333" stroke-width="0.12" transform="rotate(-45 426.50 229.60)">CD8</text>
<line x1="434.50" y1="219.60" x2="434.50" y2="221.80" stroke="#333" stroke-width="0.9"/>
<text x="438.00" y="229.60" font-size="6.6" text-anchor="end" fill="#333" font-weight="normal" stroke="#333" stroke-width="0.12" transform="rotate(-45 438.00 229.60)">B220</text>
<line x1="445.50" y1="219.60" x2="445.50" y2="221.80" stroke="#333" stroke-width="0.9"/>
<text x="449.20" y="229.60" font-size="6.6" text-anchor="end" fill="#333" font-weight="normal" stroke="#333" stroke-width="0.12" transform="rotate(-45 449.20 229.60)">Gr-1</text>
<line x1="457.50" y1="219.60" x2="457.50" y2="221.80" stroke="#333" stroke-width="0.9"/>
<text x="460.80" y="229.60" font-size="6.6" text-anchor="end" fill="#333" font-weight="normal" stroke="#333" stroke-width="0.12" transform="rotate(-45 460.80 229.60)">CD11b</text>
<text x="371.40" y="181.60" font-size="8.6" text-anchor="middle" fill="#444" font-weight="normal" stroke="#444" stroke-width="0.12" transform="rotate(-90 371.40 181.60)" textLength="95" lengthAdjust="spacingAndGlyphs">% Host cell subsets (CD45.2<tspan font-size="5.6" dy="-2.8">+</tspan><tspan dy="2.8">)</tspan></text>
<line x1="397.00" y1="201.50" x2="403.40" y2="201.50" stroke="#1f6fa8" stroke-width="0.9"/>
<circle cx="398.00" cy="197.30" r="1.68" fill="none" stroke="#4aa6dc" stroke-width="0.8"/>
<circle cx="400.80" cy="198.61" r="1.68" fill="none" stroke="#4aa6dc" stroke-width="0.8"/>
<circle cx="402.60" cy="205.17" r="1.68" fill="none" stroke="#4aa6dc" stroke-width="0.8"/>
<circle cx="399.20" cy="206.48" r="1.68" fill="none" stroke="#4aa6dc" stroke-width="0.8"/>
<circle cx="401.80" cy="197.95" r="1.68" fill="none" stroke="#4aa6dc" stroke-width="0.8"/>
<circle cx="397.40" cy="201.23" r="1.68" fill="none" stroke="#4aa6dc" stroke-width="0.8"/>
<line x1="408.60" y1="207.50" x2="415.00" y2="207.50" stroke="#1f6fa8" stroke-width="0.9"/>
<circle cx="409.60" cy="206.48" r="1.68" fill="none" stroke="#4aa6dc" stroke-width="0.8"/>
<circle cx="412.40" cy="207.14" r="1.68" fill="none" stroke="#4aa6dc" stroke-width="0.8"/>
<circle cx="414.20" cy="207.79" r="1.68" fill="none" stroke="#4aa6dc" stroke-width="0.8"/>
<circle cx="410.80" cy="211.73" r="1.68" fill="none" stroke="#4aa6dc" stroke-width="0.8"/>
<circle cx="413.40" cy="206.48" r="1.68" fill="none" stroke="#4aa6dc" stroke-width="0.8"/>
<line x1="419.80" y1="209.50" x2="426.20" y2="209.50" stroke="#1f6fa8" stroke-width="0.9"/>
<circle cx="420.80" cy="202.54" r="1.68" fill="none" stroke="#4aa6dc" stroke-width="0.8"/>
<circle cx="423.60" cy="209.76" r="1.68" fill="none" stroke="#4aa6dc" stroke-width="0.8"/>
<circle cx="425.40" cy="214.35" r="1.68" fill="none" stroke="#4aa6dc" stroke-width="0.8"/>
<circle cx="422.00" cy="215.01" r="1.68" fill="none" stroke="#4aa6dc" stroke-width="0.8"/>
<circle cx="424.60" cy="210.42" r="1.68" fill="none" stroke="#4aa6dc" stroke-width="0.8"/>
<line x1="431.30" y1="178.50" x2="437.70" y2="178.50" stroke="#1f6fa8" stroke-width="0.9"/>
<circle cx="432.30" cy="178.28" r="1.68" fill="none" stroke="#4aa6dc" stroke-width="0.8"/>
<circle cx="435.10" cy="177.95" r="1.68" fill="none" stroke="#4aa6dc" stroke-width="0.8"/>
<circle cx="436.90" cy="178.28" r="1.68" fill="none" stroke="#4aa6dc" stroke-width="0.8"/>
<circle cx="433.50" cy="178.61" r="1.68" fill="none" stroke="#4aa6dc" stroke-width="0.8"/>
<circle cx="436.10" cy="195.98" r="1.68" fill="none" stroke="#4aa6dc" stroke-width="0.8"/>
<line x1="442.50" y1="161.50" x2="448.90" y2="161.50" stroke="#1f6fa8" stroke-width="0.9"/>
<circle cx="443.50" cy="157.49" r="1.68" fill="none" stroke="#4aa6dc" stroke-width="0.8"/>
<circle cx="446.30" cy="161.45" r="1.68" fill="none" stroke="#4aa6dc" stroke-width="0.8"/>
<circle cx="448.10" cy="164.09" r="1.68" fill="none" stroke="#4aa6dc" stroke-width="0.8"/>
<circle cx="444.70" cy="159.80" r="1.68" fill="none" stroke="#4aa6dc" stroke-width="0.8"/>
<circle cx="447.30" cy="163.10" r="1.68" fill="none" stroke="#4aa6dc" stroke-width="0.8"/>
<line x1="454.10" y1="155.50" x2="460.50" y2="155.50" stroke="#1f6fa8" stroke-width="0.9"/>
<circle cx="455.10" cy="153.20" r="1.68" fill="none" stroke="#4aa6dc" stroke-width="0.8"/>
<circle cx="457.90" cy="155.51" r="1.68" fill="none" stroke="#4aa6dc" stroke-width="0.8"/>
<circle cx="459.70" cy="160.46" r="1.68" fill="none" stroke="#4aa6dc" stroke-width="0.8"/>
<circle cx="456.30" cy="154.85" r="1.68" fill="none" stroke="#4aa6dc" stroke-width="0.8"/>
<circle cx="458.90" cy="153.53" r="1.68" fill="none" stroke="#4aa6dc" stroke-width="0.8"/>
<circle cx="469.50" cy="176.20" r="1.56" fill="none" stroke="#4aa6dc" stroke-width="0.8"/>
<text x="472.70" y="178.50" font-size="6.8" text-anchor="start" fill="#333" font-weight="normal" stroke="#333" stroke-width="0.12">Isotype-ADC</text>
<text x="472.70" y="186.20" font-size="6.8" text-anchor="start" fill="#333" font-weight="normal" stroke="#333" stroke-width="0.12">(0.5 mg/kg)</text>
<text x="9.00" y="264.60" font-size="12.5" text-anchor="start" fill="#111" font-weight="bold">C</text>
<line x1="38.50" y1="275.80" x2="38.50" y2="350.20" stroke="#333" stroke-width="1.0"/>
<line x1="36.15" y1="277.50" x2="38.75" y2="277.50" stroke="#333" stroke-width="1.0"/>
<text x="32.35" y="280.06" font-size="7.1" text-anchor="end" fill="#444" font-weight="normal" stroke="#444" stroke-width="0.12" textLength="10.19" lengthAdjust="spacingAndGlyphs">100</text>
<line x1="36.15" y1="292.50" x2="38.75" y2="292.50" stroke="#333" stroke-width="1.0"/>
<text x="32.35" y="294.60" font-size="7.1" text-anchor="end" fill="#444" font-weight="normal" stroke="#444" stroke-width="0.12" textLength="6.79" lengthAdjust="spacingAndGlyphs">80</text>
<line x1="36.15" y1="306.50" x2="38.75" y2="306.50" stroke="#333" stroke-width="1.0"/>
<text x="32.35" y="309.14" font-size="7.1" text-anchor="end" fill="#444" font-weight="normal" stroke="#444" stroke-width="0.12" textLength="6.79" lengthAdjust="spacingAndGlyphs">60</text>
<line x1="36.15" y1="321.50" x2="38.75" y2="321.50" stroke="#333" stroke-width="1.0"/>
<text x="32.35" y="323.68" font-size="7.1" text-anchor="end" fill="#444" font-weight="normal" stroke="#444" stroke-width="0.12" textLength="6.79" lengthAdjust="spacingAndGlyphs">40</text>
<line x1="36.15" y1="335.50" x2="38.75" y2="335.50" stroke="#333" stroke-width="1.0"/>
<text x="32.35" y="338.22" font-size="7.1" text-anchor="end" fill="#444" font-weight="normal" stroke="#444" stroke-width="0.12" textLength="6.79" lengthAdjust="spacingAndGlyphs">20</text>
<line x1="36.15" y1="350.50" x2="38.75" y2="350.50" stroke="#333" stroke-width="1.0"/>
<text x="32.35" y="352.76" font-size="7.1" text-anchor="end" fill="#444" font-weight="normal" stroke="#444" stroke-width="0.12" textLength="3.4" lengthAdjust="spacingAndGlyphs">0</text>
<line x1="38.75" y1="350.50" x2="117.50" y2="350.50" stroke="#333" stroke-width="1.0"/>
<line x1="51.50" y1="350.20" x2="51.50" y2="352.40" stroke="#333" stroke-width="0.9"/>
<text x="55.00" y="360.40" font-size="6.8" text-anchor="end" fill="#333" font-weight="normal" stroke="#333" stroke-width="0.12" transform="rotate(-45 55.00 360.40)">Day 1</text>
<rect x="41.70" y="335.30" width="4.30" height="14.90" fill="#3aaa3a"/>
<line x1="43.50" y1="337.84" x2="43.50" y2="331.30" stroke="#222" stroke-width="0.8"/>
<line x1="42.25" y1="331.50" x2="45.45" y2="331.50" stroke="#222" stroke-width="0.8"/>
<line x1="42.25" y1="337.50" x2="45.45" y2="337.50" stroke="#222" stroke-width="0.8"/>
<circle cx="42.65" cy="335.66" r="1.44" fill="#222" stroke="#222" stroke-width="0.5"/>
<circle cx="45.05" cy="334.21" r="1.44" fill="#222" stroke="#222" stroke-width="0.5"/>
<circle cx="43.85" cy="332.75" r="1.44" fill="#222" stroke="#222" stroke-width="0.5"/>
<circle cx="43.05" cy="331.30" r="1.44" fill="#222" stroke="#222" stroke-width="0.5"/>
<rect x="49.05" y="318.21" width="4.30" height="31.99" fill="#38a8e0"/>
<line x1="51.50" y1="328.39" x2="51.50" y2="305.13" stroke="#222" stroke-width="0.8"/>
<line x1="49.60" y1="305.50" x2="52.80" y2="305.50" stroke="#222" stroke-width="0.8"/>
<line x1="49.60" y1="328.50" x2="52.80" y2="328.50" stroke="#222" stroke-width="0.8"/>
<circle cx="50.00" cy="305.13" r="1.44" fill="none" stroke="#222" stroke-width="0.8"/>
<circle cx="52.40" cy="305.13" r="1.44" fill="none" stroke="#222" stroke-width="0.8"/>
<circle cx="51.20" cy="324.75" r="1.44" fill="none" stroke="#222" stroke-width="0.8"/>
<circle cx="50.40" cy="328.39" r="1.44" fill="none" stroke="#222" stroke-width="0.8"/>
<circle cx="52.10" cy="318.21" r="1.44" fill="none" stroke="#222" stroke-width="0.8"/>
<rect x="56.40" y="322.57" width="4.30" height="27.63" fill="#c8102e"/>
<line x1="58.50" y1="326.21" x2="58.50" y2="318.21" stroke="#222" stroke-width="0.8"/>
<line x1="56.95" y1="318.50" x2="60.15" y2="318.50" stroke="#222" stroke-width="0.8"/>
<line x1="56.95" y1="326.50" x2="60.15" y2="326.50" stroke="#222" stroke-width="0.8"/>
<path d="M57.35 316.57 L58.93 319.31 L55.77 319.31 Z" fill="none" stroke="#222" stroke-width="0.7"/>
<path d="M59.75 318.75 L61.33 321.49 L58.17 321.49 Z" fill="none" stroke="#222" stroke-width="0.7"/>
<path d="M58.55 320.93 L60.13 323.67 L56.97 323.67 Z" fill="none" stroke="#222" stroke-width="0.7"/>
<path d="M57.75 321.66 L59.33 324.40 L56.17 324.40 Z" fill="none" stroke="#222" stroke-width="0.7"/>
<line x1="78.50" y1="350.20" x2="78.50" y2="352.40" stroke="#333" stroke-width="0.9"/>
<text x="82.30" y="360.40" font-size="6.8" text-anchor="end" fill="#333" font-weight="normal" stroke="#333" stroke-width="0.12" transform="rotate(-45 82.30 360.40)">Day 6</text>
<rect x="76.35" y="329.12" width="4.30" height="21.08" fill="#38a8e0"/>
<line x1="78.50" y1="332.02" x2="78.50" y2="326.94" stroke="#222" stroke-width="0.8"/>
<line x1="76.90" y1="326.50" x2="80.10" y2="326.50" stroke="#222" stroke-width="0.8"/>
<line x1="76.90" y1="332.50" x2="80.10" y2="332.50" stroke="#222" stroke-width="0.8"/>
<circle cx="77.30" cy="326.94" r="1.44" fill="none" stroke="#222" stroke-width="0.8"/>
<circle cx="79.70" cy="328.39" r="1.44" fill="none" stroke="#222" stroke-width="0.8"/>
<circle cx="78.50" cy="330.57" r="1.44" fill="none" stroke="#222" stroke-width="0.8"/>
<circle cx="77.70" cy="331.30" r="1.44" fill="none" stroke="#222" stroke-width="0.8"/>
<rect x="83.70" y="335.15" width="4.30" height="15.05" fill="#c8102e"/>
<line x1="85.50" y1="337.84" x2="85.50" y2="330.57" stroke="#222" stroke-width="0.8"/>
<line x1="84.25" y1="330.50" x2="87.45" y2="330.50" stroke="#222" stroke-width="0.8"/>
<line x1="84.25" y1="337.50" x2="87.45" y2="337.50" stroke="#222" stroke-width="0.8"/>
<path d="M84.65 328.20 L86.23 330.94 L83.07 330.94 Z" fill="none" stroke="#222" stroke-width="0.7"/>
<path d="M87.05 331.11 L88.63 333.85 L85.47 333.85 Z" fill="none" stroke="#222" stroke-width="0.7"/>
<path d="M85.85 333.29 L87.43 336.03 L84.27 336.03 Z" fill="none" stroke="#222" stroke-width="0.7"/>
<path d="M85.05 334.02 L86.63 336.75 L83.47 336.75 Z" fill="none" stroke="#222" stroke-width="0.7"/>
<line x1="105.50" y1="350.20" x2="105.50" y2="352.40" stroke="#333" stroke-width="0.9"/>
<text x="109.10" y="360.40" font-size="6.8" text-anchor="end" fill="#333" font-weight="normal" stroke="#333" stroke-width="0.12" transform="rotate(-45 109.10 360.40)">Day 11</text>
<rect x="103.15" y="337.11" width="4.30" height="13.09" fill="#38a8e0"/>
<line x1="105.50" y1="338.57" x2="105.50" y2="332.75" stroke="#222" stroke-width="0.8"/>
<line x1="103.70" y1="332.50" x2="106.90" y2="332.50" stroke="#222" stroke-width="0.8"/>
<line x1="103.70" y1="338.50" x2="106.90" y2="338.50" stroke="#222" stroke-width="0.8"/>
<circle cx="104.10" cy="332.02" r="1.44" fill="none" stroke="#222" stroke-width="0.8"/>
<circle cx="106.50" cy="334.93" r="1.44" fill="none" stroke="#222" stroke-width="0.8"/>
<circle cx="105.30" cy="335.66" r="1.44" fill="none" stroke="#222" stroke-width="0.8"/>
<circle cx="104.50" cy="337.11" r="1.44" fill="none" stroke="#222" stroke-width="0.8"/>
<rect x="110.50" y="310.43" width="4.30" height="39.77" fill="#c8102e"/>
<line x1="112.50" y1="328.39" x2="112.50" y2="292.04" stroke="#222" stroke-width="0.8"/>
<line x1="111.05" y1="292.50" x2="114.25" y2="292.50" stroke="#222" stroke-width="0.8"/>
<line x1="111.05" y1="328.50" x2="114.25" y2="328.50" stroke="#222" stroke-width="0.8"/>
<path d="M111.45 296.21 L113.03 298.95 L109.87 298.95 Z" fill="none" stroke="#222" stroke-width="0.7"/>
<path d="M113.85 300.58 L115.43 303.31 L112.27 303.31 Z" fill="none" stroke="#222" stroke-width="0.7"/>
<path d="M112.65 304.94 L114.23 307.67 L111.07 307.67 Z" fill="none" stroke="#222" stroke-width="0.7"/>
<path d="M111.85 319.48 L113.43 322.21 L110.27 322.21 Z" fill="none" stroke="#222" stroke-width="0.7"/>
<path d="M113.55 328.20 L115.13 330.94 L111.97 330.94 Z" fill="none" stroke="#222" stroke-width="0.7"/>
<text x="17.20" y="312.00" font-size="8.6" text-anchor="middle" fill="#444" font-weight="normal" stroke="#444" stroke-width="0.12" transform="rotate(-90 17.20 312.00)" textLength="49" lengthAdjust="spacingAndGlyphs">Serum ALT (U/L)</text>
<circle cx="60.50" cy="308.20" r="0.95" fill="#444"/>
<circle cx="63.30" cy="308.20" r="0.95" fill="#444"/>
<circle cx="66.10" cy="308.20" r="0.95" fill="#444"/>
<line x1="78.40" y1="309.50" x2="85.70" y2="309.50" stroke="#333" stroke-width="0.8"/>
<line x1="78.50" y1="307.70" x2="78.50" y2="310.30" stroke="#333" stroke-width="0.8"/>
<line x1="85.50" y1="307.70" x2="85.50" y2="310.30" stroke="#333" stroke-width="0.8"/>
<text x="82.00" y="305.70" font-size="6.3" text-anchor="middle" fill="#444">#</text>
<circle cx="78.40" cy="317.50" r="0.95" fill="#444"/>
<circle cx="51.20" cy="293.80" r="0.95" fill="#444"/>
<line x1="105.30" y1="268.50" x2="112.70" y2="268.50" stroke="#333" stroke-width="0.8"/>
<line x1="105.50" y1="267.50" x2="105.50" y2="270.10" stroke="#333" stroke-width="0.8"/>
<line x1="112.50" y1="267.50" x2="112.50" y2="270.10" stroke="#333" stroke-width="0.8"/>
<text x="109.00" y="267.10" font-size="6.3" text-anchor="middle" fill="#444">#</text>
<circle cx="113.00" cy="277.00" r="0.95" fill="#444"/>
<line x1="138.50" y1="275.80" x2="138.50" y2="350.20" stroke="#333" stroke-width="1.0"/>
<line x1="135.65" y1="277.50" x2="138.25" y2="277.50" stroke="#333" stroke-width="1.0"/>
<text x="131.85" y="280.06" font-size="7.1" text-anchor="end" fill="#444" font-weight="normal" stroke="#444" stroke-width="0.12" textLength="10.19" lengthAdjust="spacingAndGlyphs">100</text>
<line x1="135.65" y1="292.50" x2="138.25" y2="292.50" stroke="#333" stroke-width="1.0"/>
<text x="131.85" y="294.60" font-size="7.1" text-anchor="end" fill="#444" font-weight="normal" stroke="#444" stroke-width="0.12" textLength="6.79" lengthAdjust="spacingAndGlyphs">80</text>
<line x1="135.65" y1="306.50" x2="138.25" y2="306.50" stroke="#333" stroke-width="1.0"/>
<text x="131.85" y="309.14" font-size="7.1" text-anchor="end" fill="#444" font-weight="normal" stroke="#444" stroke-width="0.12" textLength="6.79" lengthAdjust="spacingAndGlyphs">60</text>
<line x1="135.65" y1="321.50" x2="138.25" y2="321.50" stroke="#333" stroke-width="1.0"/>
<text x="131.85" y="323.68" font-size="7.1" text-anchor="end" fill="#444" font-weight="normal" stroke="#444" stroke-width="0.12" textLength="6.79" lengthAdjust="spacingAndGlyphs">40</text>
<line x1="135.65" y1="335.50" x2="138.25" y2="335.50" stroke="#333" stroke-width="1.0"/>
<text x="131.85" y="338.22" font-size="7.1" text-anchor="end" fill="#444" font-weight="normal" stroke="#444" stroke-width="0.12" textLength="6.79" lengthAdjust="spacingAndGlyphs">20</text>
<line x1="135.65" y1="350.50" x2="138.25" y2="350.50" stroke="#333" stroke-width="1.0"/>
<text x="131.85" y="352.76" font-size="7.1" text-anchor="end" fill="#444" font-weight="normal" stroke="#444" stroke-width="0.12" textLength="3.4" lengthAdjust="spacingAndGlyphs">0</text>
<line x1="138.25" y1="350.50" x2="217.00" y2="350.50" stroke="#333" stroke-width="1.0"/>
<line x1="150.50" y1="350.20" x2="150.50" y2="352.40" stroke="#333" stroke-width="0.9"/>
<text x="154.30" y="360.40" font-size="6.8" text-anchor="end" fill="#333" font-weight="normal" stroke="#333" stroke-width="0.12" transform="rotate(-45 154.30 360.40)">Day 0</text>
<rect x="140.65" y="332.02" width="4.30" height="18.18" fill="#3aaa3a"/>
<line x1="142.50" y1="334.21" x2="142.50" y2="330.57" stroke="#222" stroke-width="0.8"/>
<line x1="141.20" y1="330.50" x2="144.40" y2="330.50" stroke="#222" stroke-width="0.8"/>
<line x1="141.20" y1="334.50" x2="144.40" y2="334.50" stroke="#222" stroke-width="0.8"/>
<circle cx="141.60" cy="334.21" r="1.44" fill="#222" stroke="#222" stroke-width="0.5"/>
<circle cx="144.00" cy="332.75" r="1.44" fill="#222" stroke="#222" stroke-width="0.5"/>
<circle cx="142.80" cy="332.02" r="1.44" fill="#222" stroke="#222" stroke-width="0.5"/>
<rect x="148.35" y="332.02" width="4.30" height="18.18" fill="#38a8e0"/>
<line x1="150.50" y1="335.66" x2="150.50" y2="328.39" stroke="#222" stroke-width="0.8"/>
<line x1="148.90" y1="328.50" x2="152.10" y2="328.50" stroke="#222" stroke-width="0.8"/>
<line x1="148.90" y1="335.50" x2="152.10" y2="335.50" stroke="#222" stroke-width="0.8"/>
<circle cx="149.30" cy="325.48" r="1.44" fill="none" stroke="#222" stroke-width="0.8"/>
<circle cx="151.70" cy="329.84" r="1.44" fill="none" stroke="#222" stroke-width="0.8"/>
<circle cx="150.50" cy="334.21" r="1.44" fill="none" stroke="#222" stroke-width="0.8"/>
<circle cx="149.70" cy="332.75" r="1.44" fill="none" stroke="#222" stroke-width="0.8"/>
<rect x="156.05" y="333.19" width="4.30" height="17.01" fill="#c8102e"/>
<line x1="158.50" y1="338.57" x2="158.50" y2="323.74" stroke="#222" stroke-width="0.8"/>
<line x1="156.60" y1="323.50" x2="159.80" y2="323.50" stroke="#222" stroke-width="0.8"/>
<line x1="156.60" y1="338.50" x2="159.80" y2="338.50" stroke="#222" stroke-width="0.8"/>
<path d="M157.00 313.88 L158.58 316.62 L155.42 316.62 Z" fill="none" stroke="#222" stroke-width="0.7"/>
<path d="M159.40 329.66 L160.98 332.39 L157.82 332.39 Z" fill="none" stroke="#222" stroke-width="0.7"/>
<path d="M158.20 332.56 L159.78 335.30 L156.62 335.30 Z" fill="none" stroke="#222" stroke-width="0.7"/>
<path d="M157.40 334.02 L158.98 336.75 L155.82 336.75 Z" fill="none" stroke="#222" stroke-width="0.7"/>
<line x1="177.50" y1="350.20" x2="177.50" y2="352.40" stroke="#333" stroke-width="0.9"/>
<text x="181.55" y="360.40" font-size="6.8" text-anchor="end" fill="#333" font-weight="normal" stroke="#333" stroke-width="0.12" transform="rotate(-45 181.55 360.40)">Day 28</text>
<rect x="175.60" y="330.72" width="4.30" height="19.48" fill="#38a8e0"/>
<line x1="177.50" y1="333.48" x2="177.50" y2="329.12" stroke="#222" stroke-width="0.8"/>
<line x1="176.15" y1="329.50" x2="179.35" y2="329.50" stroke="#222" stroke-width="0.8"/>
<line x1="176.15" y1="333.50" x2="179.35" y2="333.50" stroke="#222" stroke-width="0.8"/>
<circle cx="176.55" cy="329.12" r="1.44" fill="none" stroke="#222" stroke-width="0.8"/>
<circle cx="178.95" cy="330.57" r="1.44" fill="none" stroke="#222" stroke-width="0.8"/>
<circle cx="177.75" cy="332.02" r="1.44" fill="none" stroke="#222" stroke-width="0.8"/>
<circle cx="176.95" cy="333.48" r="1.44" fill="none" stroke="#222" stroke-width="0.8"/>
<rect x="183.30" y="327.81" width="4.30" height="22.39" fill="#c8102e"/>
<line x1="185.50" y1="334.21" x2="185.50" y2="318.21" stroke="#222" stroke-width="0.8"/>
<line x1="183.85" y1="318.50" x2="187.05" y2="318.50" stroke="#222" stroke-width="0.8"/>
<line x1="183.85" y1="334.50" x2="187.05" y2="334.50" stroke="#222" stroke-width="0.8"/>
<path d="M184.25 310.75 L185.83 313.49 L182.67 313.49 Z" fill="none" stroke="#222" stroke-width="0.7"/>
<path d="M186.65 323.84 L188.23 326.58 L185.07 326.58 Z" fill="none" stroke="#222" stroke-width="0.7"/>
<path d="M185.45 328.20 L187.03 330.94 L183.87 330.94 Z" fill="none" stroke="#222" stroke-width="0.7"/>
<path d="M184.65 331.11 L186.23 333.85 L183.07 333.85 Z" fill="none" stroke="#222" stroke-width="0.7"/>
<line x1="204.50" y1="350.20" x2="204.50" y2="352.40" stroke="#333" stroke-width="0.9"/>
<text x="208.65" y="360.40" font-size="6.8" text-anchor="end" fill="#333" font-weight="normal" stroke="#333" stroke-width="0.12" transform="rotate(-45 208.65 360.40)">Day 56</text>
<rect x="202.70" y="330.72" width="4.30" height="19.48" fill="#38a8e0"/>
<line x1="204.50" y1="332.75" x2="204.50" y2="329.12" stroke="#222" stroke-width="0.8"/>
<line x1="203.25" y1="329.50" x2="206.45" y2="329.50" stroke="#222" stroke-width="0.8"/>
<line x1="203.25" y1="332.50" x2="206.45" y2="332.50" stroke="#222" stroke-width="0.8"/>
<circle cx="203.65" cy="328.39" r="1.44" fill="none" stroke="#222" stroke-width="0.8"/>
<circle cx="206.05" cy="330.57" r="1.44" fill="none" stroke="#222" stroke-width="0.8"/>
<circle cx="204.85" cy="331.30" r="1.44" fill="none" stroke="#222" stroke-width="0.8"/>
<circle cx="204.05" cy="332.75" r="1.44" fill="none" stroke="#222" stroke-width="0.8"/>
<rect x="210.40" y="329.41" width="4.30" height="20.79" fill="#c8102e"/>
<line x1="212.50" y1="334.21" x2="212.50" y2="325.48" stroke="#222" stroke-width="0.8"/>
<line x1="210.95" y1="325.50" x2="214.15" y2="325.50" stroke="#222" stroke-width="0.8"/>
<line x1="210.95" y1="334.50" x2="214.15" y2="334.50" stroke="#222" stroke-width="0.8"/>
<path d="M211.35 323.11 L212.93 325.85 L209.77 325.85 Z" fill="none" stroke="#222" stroke-width="0.7"/>
<path d="M213.75 324.57 L215.33 327.30 L212.17 327.30 Z" fill="none" stroke="#222" stroke-width="0.7"/>
<path d="M212.55 328.20 L214.13 330.94 L210.97 330.94 Z" fill="none" stroke="#222" stroke-width="0.7"/>
<circle cx="212.50" cy="313.00" r="0.95" fill="#444"/>
<line x1="250.50" y1="275.60" x2="250.50" y2="350.20" stroke="#333" stroke-width="1.0"/>
<line x1="247.60" y1="277.50" x2="250.20" y2="277.50" stroke="#333" stroke-width="1.0"/>
<text x="243.80" y="279.86" font-size="7.1" text-anchor="end" fill="#444" font-weight="normal" stroke="#444" stroke-width="0.12" textLength="10.19" lengthAdjust="spacingAndGlyphs">200</text>
<line x1="247.60" y1="295.50" x2="250.20" y2="295.50" stroke="#333" stroke-width="1.0"/>
<text x="243.80" y="298.08" font-size="7.1" text-anchor="end" fill="#444" font-weight="normal" stroke="#444" stroke-width="0.12" textLength="10.19" lengthAdjust="spacingAndGlyphs">150</text>
<line x1="247.60" y1="313.50" x2="250.20" y2="313.50" stroke="#333" stroke-width="1.0"/>
<text x="243.80" y="316.31" font-size="7.1" text-anchor="end" fill="#444" font-weight="normal" stroke="#444" stroke-width="0.12" textLength="10.19" lengthAdjust="spacingAndGlyphs">100</text>
<line x1="247.60" y1="331.50" x2="250.20" y2="331.50" stroke="#333" stroke-width="1.0"/>
<text x="243.80" y="334.53" font-size="7.1" text-anchor="end" fill="#444" font-weight="normal" stroke="#444" stroke-width="0.12" textLength="6.79" lengthAdjust="spacingAndGlyphs">50</text>
<line x1="247.60" y1="350.50" x2="250.20" y2="350.50" stroke="#333" stroke-width="1.0"/>
<text x="243.80" y="352.76" font-size="7.1" text-anchor="end" fill="#444" font-weight="normal" stroke="#444" stroke-width="0.12" textLength="3.4" lengthAdjust="spacingAndGlyphs">0</text>
<line x1="250.20" y1="350.50" x2="328.75" y2="350.50" stroke="#333" stroke-width="1.0"/>
<line x1="262.50" y1="350.20" x2="262.50" y2="352.40" stroke="#333" stroke-width="0.9"/>
<text x="266.05" y="360.40" font-size="6.8" text-anchor="end" fill="#333" font-weight="normal" stroke="#333" stroke-width="0.12" transform="rotate(-45 266.05 360.40)">Day 1</text>
<rect x="252.75" y="331.61" width="4.30" height="18.59" fill="#3aaa3a"/>
<line x1="254.50" y1="333.80" x2="254.50" y2="328.33" stroke="#222" stroke-width="0.8"/>
<line x1="253.30" y1="328.50" x2="256.50" y2="328.50" stroke="#222" stroke-width="0.8"/>
<line x1="253.30" y1="333.50" x2="256.50" y2="333.50" stroke="#222" stroke-width="0.8"/>
<circle cx="253.70" cy="326.14" r="1.44" fill="#222" stroke="#222" stroke-width="0.5"/>
<circle cx="256.10" cy="330.15" r="1.44" fill="#222" stroke="#222" stroke-width="0.5"/>
<circle cx="254.90" cy="331.98" r="1.44" fill="#222" stroke="#222" stroke-width="0.5"/>
<circle cx="254.10" cy="332.70" r="1.44" fill="#222" stroke="#222" stroke-width="0.5"/>
<rect x="260.10" y="323.23" width="4.30" height="26.97" fill="#38a8e0"/>
<line x1="262.50" y1="330.15" x2="262.50" y2="312.66" stroke="#222" stroke-width="0.8"/>
<line x1="260.65" y1="312.50" x2="263.85" y2="312.50" stroke="#222" stroke-width="0.8"/>
<line x1="260.65" y1="330.50" x2="263.85" y2="330.50" stroke="#222" stroke-width="0.8"/>
<circle cx="261.05" cy="312.66" r="1.44" fill="none" stroke="#222" stroke-width="0.8"/>
<circle cx="263.45" cy="313.02" r="1.44" fill="none" stroke="#222" stroke-width="0.8"/>
<circle cx="262.25" cy="326.14" r="1.44" fill="none" stroke="#222" stroke-width="0.8"/>
<circle cx="261.45" cy="329.06" r="1.44" fill="none" stroke="#222" stroke-width="0.8"/>
<circle cx="263.15" cy="331.25" r="1.44" fill="none" stroke="#222" stroke-width="0.8"/>
<rect x="267.45" y="312.29" width="4.30" height="37.91" fill="#c8102e"/>
<line x1="269.50" y1="318.12" x2="269.50" y2="303.54" stroke="#222" stroke-width="0.8"/>
<line x1="268.00" y1="303.50" x2="271.20" y2="303.50" stroke="#222" stroke-width="0.8"/>
<line x1="268.00" y1="318.50" x2="271.20" y2="318.50" stroke="#222" stroke-width="0.8"/>
<path d="M268.40 297.53 L269.98 300.26 L266.82 300.26 Z" fill="none" stroke="#222" stroke-width="0.7"/>
<path d="M270.80 310.65 L272.38 313.39 L269.22 313.39 Z" fill="none" stroke="#222" stroke-width="0.7"/>
<path d="M269.60 312.11 L271.18 314.84 L268.02 314.84 Z" fill="none" stroke="#222" stroke-width="0.7"/>
<path d="M268.80 313.93 L270.38 316.67 L267.22 316.67 Z" fill="none" stroke="#222" stroke-width="0.7"/>
<path d="M270.50 315.75 L272.08 318.49 L268.92 318.49 Z" fill="none" stroke="#222" stroke-width="0.7"/>
<line x1="289.50" y1="350.20" x2="289.50" y2="352.40" stroke="#333" stroke-width="0.9"/>
<text x="293.40" y="360.40" font-size="6.8" text-anchor="end" fill="#333" font-weight="normal" stroke="#333" stroke-width="0.12" transform="rotate(-45 293.40 360.40)">Day 6</text>
<rect x="287.45" y="325.78" width="4.30" height="24.42" fill="#38a8e0"/>
<line x1="289.50" y1="328.33" x2="289.50" y2="320.31" stroke="#222" stroke-width="0.8"/>
<line x1="288.00" y1="320.50" x2="291.20" y2="320.50" stroke="#222" stroke-width="0.8"/>
<line x1="288.00" y1="328.50" x2="291.20" y2="328.50" stroke="#222" stroke-width="0.8"/>
<circle cx="288.40" cy="320.31" r="1.44" fill="none" stroke="#222" stroke-width="0.8"/>
<circle cx="290.80" cy="323.96" r="1.44" fill="none" stroke="#222" stroke-width="0.8"/>
<circle cx="289.60" cy="326.14" r="1.44" fill="none" stroke="#222" stroke-width="0.8"/>
<circle cx="288.80" cy="327.60" r="1.44" fill="none" stroke="#222" stroke-width="0.8"/>
<rect x="294.80" y="326.14" width="4.30" height="24.06" fill="#c8102e"/>
<line x1="296.50" y1="328.33" x2="296.50" y2="323.23" stroke="#222" stroke-width="0.8"/>
<line x1="295.35" y1="323.50" x2="298.55" y2="323.50" stroke="#222" stroke-width="0.8"/>
<line x1="295.35" y1="328.50" x2="298.55" y2="328.50" stroke="#222" stroke-width="0.8"/>
<path d="M295.75 322.31 L297.33 325.05 L294.17 325.05 Z" fill="none" stroke="#222" stroke-width="0.7"/>
<path d="M298.15 323.77 L299.73 326.51 L296.57 326.51 Z" fill="none" stroke="#222" stroke-width="0.7"/>
<path d="M296.95 325.23 L298.53 327.97 L295.37 327.97 Z" fill="none" stroke="#222" stroke-width="0.7"/>
<path d="M296.15 325.96 L297.73 328.70 L294.57 328.70 Z" fill="none" stroke="#222" stroke-width="0.7"/>
<line x1="316.50" y1="350.20" x2="316.50" y2="352.40" stroke="#333" stroke-width="0.9"/>
<text x="320.55" y="360.40" font-size="6.8" text-anchor="end" fill="#333" font-weight="normal" stroke="#333" stroke-width="0.12" transform="rotate(-45 320.55 360.40)">Day 11</text>
<rect x="314.60" y="326.14" width="4.30" height="24.06" fill="#38a8e0"/>
<line x1="316.50" y1="331.25" x2="316.50" y2="319.58" stroke="#222" stroke-width="0.8"/>
<line x1="315.15" y1="319.50" x2="318.35" y2="319.50" stroke="#222" stroke-width="0.8"/>
<line x1="315.15" y1="331.50" x2="318.35" y2="331.50" stroke="#222" stroke-width="0.8"/>
<circle cx="315.55" cy="319.22" r="1.44" fill="none" stroke="#222" stroke-width="0.8"/>
<circle cx="317.95" cy="321.04" r="1.44" fill="none" stroke="#222" stroke-width="0.8"/>
<circle cx="316.75" cy="326.14" r="1.44" fill="none" stroke="#222" stroke-width="0.8"/>
<circle cx="315.95" cy="329.06" r="1.44" fill="none" stroke="#222" stroke-width="0.8"/>
<circle cx="317.65" cy="331.25" r="1.44" fill="none" stroke="#222" stroke-width="0.8"/>
<rect x="321.95" y="306.10" width="4.30" height="44.10" fill="#c8102e"/>
<line x1="324.50" y1="315.57" x2="324.50" y2="291.88" stroke="#222" stroke-width="0.8"/>
<line x1="322.50" y1="291.50" x2="325.70" y2="291.50" stroke="#222" stroke-width="0.8"/>
<line x1="322.50" y1="315.50" x2="325.70" y2="315.50" stroke="#222" stroke-width="0.8"/>
<path d="M322.90 286.59 L324.48 289.33 L321.32 289.33 Z" fill="none" stroke="#222" stroke-width="0.7"/>
<path d="M325.30 293.88 L326.88 296.62 L323.72 296.62 Z" fill="none" stroke="#222" stroke-width="0.7"/>
<path d="M324.10 308.46 L325.68 311.20 L322.52 311.20 Z" fill="none" stroke="#222" stroke-width="0.7"/>
<path d="M323.30 312.11 L324.88 314.84 L321.72 314.84 Z" fill="none" stroke="#222" stroke-width="0.7"/>
<path d="M325.00 315.75 L326.58 318.49 L323.42 318.49 Z" fill="none" stroke="#222" stroke-width="0.7"/>
<text x="230.50" y="311.60" font-size="8.6" text-anchor="middle" fill="#444" font-weight="normal" stroke="#444" stroke-width="0.12" transform="rotate(-90 230.50 311.60)" textLength="49.5" lengthAdjust="spacingAndGlyphs">Serum AST (U/L)</text>
<circle cx="268.30" cy="285.80" r="0.95" fill="#444"/>
<circle cx="271.10" cy="285.80" r="0.95" fill="#444"/>
<circle cx="289.50" cy="310.00" r="0.95" fill="#444"/>
<circle cx="296.50" cy="299.50" r="0.95" fill="#444"/>
<circle cx="322.80" cy="278.50" r="0.95" fill="#444"/>
<circle cx="325.60" cy="278.50" r="0.95" fill="#444"/>
<line x1="316.25" y1="269.50" x2="325.00" y2="269.50" stroke="#333" stroke-width="0.8"/>
<line x1="316.50" y1="267.90" x2="316.50" y2="270.50" stroke="#333" stroke-width="0.8"/>
<line x1="325.50" y1="267.90" x2="325.50" y2="270.50" stroke="#333" stroke-width="0.8"/>
<text x="320.60" y="267.40" font-size="6.3" text-anchor="middle" fill="#444">#</text>
<line x1="349.50" y1="275.60" x2="349.50" y2="350.20" stroke="#333" stroke-width="1.0"/>
<line x1="346.90" y1="277.50" x2="349.50" y2="277.50" stroke="#333" stroke-width="1.0"/>
<text x="343.10" y="279.86" font-size="7.1" text-anchor="end" fill="#444" font-weight="normal" stroke="#444" stroke-width="0.12" textLength="10.19" lengthAdjust="spacingAndGlyphs">200</text>
<line x1="346.90" y1="295.50" x2="349.50" y2="295.50" stroke="#333" stroke-width="1.0"/>
<text x="343.10" y="298.08" font-size="7.1" text-anchor="end" fill="#444" font-weight="normal" stroke="#444" stroke-width="0.12" textLength="10.19" lengthAdjust="spacingAndGlyphs">150</text>
<line x1="346.90" y1="313.50" x2="349.50" y2="313.50" stroke="#333" stroke-width="1.0"/>
<text x="343.10" y="316.31" font-size="7.1" text-anchor="end" fill="#444" font-weight="normal" stroke="#444" stroke-width="0.12" textLength="10.19" lengthAdjust="spacingAndGlyphs">100</text>
<line x1="346.90" y1="331.50" x2="349.50" y2="331.50" stroke="#333" stroke-width="1.0"/>
<text x="343.10" y="334.53" font-size="7.1" text-anchor="end" fill="#444" font-weight="normal" stroke="#444" stroke-width="0.12" textLength="6.79" lengthAdjust="spacingAndGlyphs">50</text>
<line x1="346.90" y1="350.50" x2="349.50" y2="350.50" stroke="#333" stroke-width="1.0"/>
<text x="343.10" y="352.76" font-size="7.1" text-anchor="end" fill="#444" font-weight="normal" stroke="#444" stroke-width="0.12" textLength="3.4" lengthAdjust="spacingAndGlyphs">0</text>
<line x1="349.50" y1="350.50" x2="428.75" y2="350.50" stroke="#333" stroke-width="1.0"/>
<line x1="362.50" y1="350.20" x2="362.50" y2="352.40" stroke="#333" stroke-width="0.9"/>
<text x="366.05" y="360.40" font-size="6.8" text-anchor="end" fill="#333" font-weight="normal" stroke="#333" stroke-width="0.12" transform="rotate(-45 366.05 360.40)">Day 0</text>
<rect x="352.75" y="329.06" width="4.30" height="21.14" fill="#3aaa3a"/>
<line x1="354.50" y1="332.70" x2="354.50" y2="324.69" stroke="#222" stroke-width="0.8"/>
<line x1="353.30" y1="324.50" x2="356.50" y2="324.50" stroke="#222" stroke-width="0.8"/>
<line x1="353.30" y1="332.50" x2="356.50" y2="332.50" stroke="#222" stroke-width="0.8"/>
<circle cx="353.70" cy="319.22" r="1.44" fill="#222" stroke="#222" stroke-width="0.5"/>
<circle cx="356.10" cy="327.60" r="1.44" fill="#222" stroke="#222" stroke-width="0.5"/>
<circle cx="354.90" cy="330.15" r="1.44" fill="#222" stroke="#222" stroke-width="0.5"/>
<circle cx="354.10" cy="331.98" r="1.44" fill="#222" stroke="#222" stroke-width="0.5"/>
<rect x="360.10" y="325.78" width="4.30" height="24.42" fill="#38a8e0"/>
<line x1="362.50" y1="331.25" x2="362.50" y2="315.57" stroke="#222" stroke-width="0.8"/>
<line x1="360.65" y1="315.50" x2="363.85" y2="315.50" stroke="#222" stroke-width="0.8"/>
<line x1="360.65" y1="331.50" x2="363.85" y2="331.50" stroke="#222" stroke-width="0.8"/>
<circle cx="361.05" cy="312.29" r="1.44" fill="none" stroke="#222" stroke-width="0.8"/>
<circle cx="363.45" cy="315.21" r="1.44" fill="none" stroke="#222" stroke-width="0.8"/>
<circle cx="362.25" cy="327.60" r="1.44" fill="none" stroke="#222" stroke-width="0.8"/>
<circle cx="361.45" cy="330.15" r="1.44" fill="none" stroke="#222" stroke-width="0.8"/>
<circle cx="363.15" cy="331.98" r="1.44" fill="none" stroke="#222" stroke-width="0.8"/>
<rect x="367.45" y="325.05" width="4.30" height="25.15" fill="#c8102e"/>
<line x1="369.50" y1="329.06" x2="369.50" y2="321.04" stroke="#222" stroke-width="0.8"/>
<line x1="368.00" y1="321.50" x2="371.20" y2="321.50" stroke="#222" stroke-width="0.8"/>
<line x1="368.00" y1="329.50" x2="371.20" y2="329.50" stroke="#222" stroke-width="0.8"/>
<path d="M368.40 315.75 L369.98 318.49 L366.82 318.49 Z" fill="none" stroke="#222" stroke-width="0.7"/>
<path d="M370.80 324.50 L372.38 327.24 L369.22 327.24 Z" fill="none" stroke="#222" stroke-width="0.7"/>
<path d="M369.60 325.96 L371.18 328.70 L368.02 328.70 Z" fill="none" stroke="#222" stroke-width="0.7"/>
<path d="M368.80 327.42 L370.38 330.15 L367.22 330.15 Z" fill="none" stroke="#222" stroke-width="0.7"/>
<line x1="388.50" y1="350.20" x2="388.50" y2="352.40" stroke="#333" stroke-width="0.9"/>
<text x="392.30" y="360.40" font-size="6.8" text-anchor="end" fill="#333" font-weight="normal" stroke="#333" stroke-width="0.12" transform="rotate(-45 392.30 360.40)">Day 28</text>
<rect x="386.35" y="324.69" width="4.30" height="25.51" fill="#38a8e0"/>
<line x1="388.50" y1="332.70" x2="388.50" y2="315.21" stroke="#222" stroke-width="0.8"/>
<line x1="386.90" y1="315.50" x2="390.10" y2="315.50" stroke="#222" stroke-width="0.8"/>
<line x1="386.90" y1="332.50" x2="390.10" y2="332.50" stroke="#222" stroke-width="0.8"/>
<circle cx="387.30" cy="307.92" r="1.44" fill="none" stroke="#222" stroke-width="0.8"/>
<circle cx="389.70" cy="315.57" r="1.44" fill="none" stroke="#222" stroke-width="0.8"/>
<circle cx="388.50" cy="326.14" r="1.44" fill="none" stroke="#222" stroke-width="0.8"/>
<circle cx="387.70" cy="330.15" r="1.44" fill="none" stroke="#222" stroke-width="0.8"/>
<circle cx="389.40" cy="332.70" r="1.44" fill="none" stroke="#222" stroke-width="0.8"/>
<rect x="393.70" y="304.64" width="4.30" height="45.56" fill="#c8102e"/>
<line x1="395.50" y1="317.39" x2="395.50" y2="287.51" stroke="#222" stroke-width="0.8"/>
<line x1="394.25" y1="287.50" x2="397.45" y2="287.50" stroke="#222" stroke-width="0.8"/>
<line x1="394.25" y1="317.50" x2="397.45" y2="317.50" stroke="#222" stroke-width="0.8"/>
<path d="M394.65 281.13 L396.23 283.86 L393.07 283.86 Z" fill="none" stroke="#222" stroke-width="0.7"/>
<path d="M397.05 286.59 L398.63 289.33 L395.47 289.33 Z" fill="none" stroke="#222" stroke-width="0.7"/>
<path d="M395.85 303.00 L397.43 305.73 L394.27 305.73 Z" fill="none" stroke="#222" stroke-width="0.7"/>
<path d="M395.05 313.93 L396.63 316.67 L393.47 316.67 Z" fill="none" stroke="#222" stroke-width="0.7"/>
<path d="M396.75 316.48 L398.33 319.22 L395.17 319.22 Z" fill="none" stroke="#222" stroke-width="0.7"/>
<line x1="416.50" y1="350.20" x2="416.50" y2="352.40" stroke="#333" stroke-width="0.9"/>
<text x="420.30" y="360.40" font-size="6.8" text-anchor="end" fill="#333" font-weight="normal" stroke="#333" stroke-width="0.12" transform="rotate(-45 420.30 360.40)">Day 56</text>
<rect x="414.35" y="326.87" width="4.30" height="23.33" fill="#38a8e0"/>
<line x1="416.50" y1="330.15" x2="416.50" y2="325.41" stroke="#222" stroke-width="0.8"/>
<line x1="414.90" y1="325.50" x2="418.10" y2="325.50" stroke="#222" stroke-width="0.8"/>
<line x1="414.90" y1="330.50" x2="418.10" y2="330.50" stroke="#222" stroke-width="0.8"/>
<circle cx="415.30" cy="326.51" r="1.44" fill="none" stroke="#222" stroke-width="0.8"/>
<circle cx="417.70" cy="327.60" r="1.44" fill="none" stroke="#222" stroke-width="0.8"/>
<circle cx="416.50" cy="329.06" r="1.44" fill="none" stroke="#222" stroke-width="0.8"/>
<circle cx="415.70" cy="330.15" r="1.44" fill="none" stroke="#222" stroke-width="0.8"/>
<rect x="421.70" y="324.32" width="4.30" height="25.88" fill="#c8102e"/>
<line x1="423.50" y1="330.15" x2="423.50" y2="317.39" stroke="#222" stroke-width="0.8"/>
<line x1="422.25" y1="317.50" x2="425.45" y2="317.50" stroke="#222" stroke-width="0.8"/>
<line x1="422.25" y1="330.50" x2="425.45" y2="330.50" stroke="#222" stroke-width="0.8"/>
<path d="M422.65 309.56 L424.23 312.29 L421.07 312.29 Z" fill="none" stroke="#222" stroke-width="0.7"/>
<path d="M425.05 322.31 L426.63 325.05 L423.47 325.05 Z" fill="none" stroke="#222" stroke-width="0.7"/>
<path d="M423.85 325.96 L425.43 328.70 L422.27 328.70 Z" fill="none" stroke="#222" stroke-width="0.7"/>
<path d="M423.05 327.42 L424.63 330.15 L421.47 330.15 Z" fill="none" stroke="#222" stroke-width="0.7"/>
<line x1="389.50" y1="270.50" x2="397.00" y2="270.50" stroke="#333" stroke-width="0.8"/>
<line x1="389.50" y1="268.70" x2="389.50" y2="271.30" stroke="#333" stroke-width="0.8"/>
<line x1="397.50" y1="268.70" x2="397.50" y2="271.30" stroke="#333" stroke-width="0.8"/>
<text x="393.20" y="268.10" font-size="6.3" text-anchor="middle" fill="#444">#</text>
<circle cx="395.20" cy="276.30" r="0.95" fill="#444"/>
<circle cx="398.00" cy="276.30" r="0.95" fill="#444"/>
<circle cx="433.50" cy="301.90" r="1.5" fill="#333" stroke="#333" stroke-width="0.5"/>
<text x="437.10" y="304.20" font-size="6.8" text-anchor="start" fill="#333" font-weight="normal" stroke="#333" stroke-width="0.12">Untreated control</text>
<circle cx="433.50" cy="311.90" r="1.5" fill="none" stroke="#333" stroke-width="0.8"/>
<text x="437.10" y="314.20" font-size="6.8" text-anchor="start" fill="#333" font-weight="normal" stroke="#333" stroke-width="0.12">Isotype-ADC (0.5 mg/kg)</text>
<path d="M433.50 320.19 L435.15 323.04 L431.85 323.04 Z" fill="none" stroke="#333" stroke-width="0.7"/>
<text x="437.10" y="324.20" font-size="6.8" text-anchor="start" fill="#333" font-weight="normal" stroke="#333" stroke-width="0.12">CD45-ADC (1.5 mg/kg)</text>
<text x="8.80" y="395.20" font-size="12.5" text-anchor="start" fill="#111" font-weight="bold">D</text>
<line x1="31.50" y1="407.80" x2="31.50" y2="481.70" stroke="#333" stroke-width="1.0"/>
<line x1="28.90" y1="410.50" x2="31.50" y2="410.50" stroke="#333" stroke-width="1.0"/>
<text x="25.10" y="413.16" font-size="7.1" text-anchor="end" fill="#444" font-weight="normal" stroke="#444" stroke-width="0.12" textLength="3.4" lengthAdjust="spacingAndGlyphs">5</text>
<line x1="28.90" y1="424.50" x2="31.50" y2="424.50" stroke="#333" stroke-width="1.0"/>
<text x="25.10" y="427.38" font-size="7.1" text-anchor="end" fill="#444" font-weight="normal" stroke="#444" stroke-width="0.12" textLength="3.4" lengthAdjust="spacingAndGlyphs">4</text>
<line x1="28.90" y1="439.50" x2="31.50" y2="439.50" stroke="#333" stroke-width="1.0"/>
<text x="25.10" y="441.60" font-size="7.1" text-anchor="end" fill="#444" font-weight="normal" stroke="#444" stroke-width="0.12" textLength="3.4" lengthAdjust="spacingAndGlyphs">3</text>
<line x1="28.90" y1="453.50" x2="31.50" y2="453.50" stroke="#333" stroke-width="1.0"/>
<text x="25.10" y="455.82" font-size="7.1" text-anchor="end" fill="#444" font-weight="normal" stroke="#444" stroke-width="0.12" textLength="3.4" lengthAdjust="spacingAndGlyphs">2</text>
<line x1="28.90" y1="467.50" x2="31.50" y2="467.50" stroke="#333" stroke-width="1.0"/>
<text x="25.10" y="470.04" font-size="7.1" text-anchor="end" fill="#444" font-weight="normal" stroke="#444" stroke-width="0.12" textLength="3.4" lengthAdjust="spacingAndGlyphs">1</text>
<line x1="28.90" y1="481.50" x2="31.50" y2="481.50" stroke="#333" stroke-width="1.0"/>
<text x="25.10" y="484.26" font-size="7.1" text-anchor="end" fill="#444" font-weight="normal" stroke="#444" stroke-width="0.12" textLength="3.4" lengthAdjust="spacingAndGlyphs">0</text>
<line x1="31.50" y1="481.50" x2="104.80" y2="481.50" stroke="#333" stroke-width="1.0"/>
<line x1="42.50" y1="481.70" x2="42.50" y2="483.90" stroke="#333" stroke-width="0.9"/>
<text x="46.70" y="491.90" font-size="6.8" text-anchor="end" fill="#333" font-weight="normal" stroke="#333" stroke-width="0.12" transform="rotate(-45 46.70 491.90)">Day 0</text>
<rect x="33.85" y="436.20" width="4.10" height="45.50" fill="#3aaa3a"/>
<line x1="35.50" y1="437.62" x2="35.50" y2="432.64" stroke="#222" stroke-width="0.8"/>
<line x1="34.30" y1="432.50" x2="37.50" y2="432.50" stroke="#222" stroke-width="0.8"/>
<line x1="34.30" y1="437.50" x2="37.50" y2="437.50" stroke="#222" stroke-width="0.8"/>
<circle cx="34.70" cy="432.64" r="1.44" fill="#222" stroke="#222" stroke-width="0.5"/>
<circle cx="37.10" cy="434.77" r="1.44" fill="#222" stroke="#222" stroke-width="0.5"/>
<circle cx="35.90" cy="436.20" r="1.44" fill="#222" stroke="#222" stroke-width="0.5"/>
<circle cx="35.10" cy="436.91" r="1.44" fill="#222" stroke="#222" stroke-width="0.5"/>
<rect x="40.85" y="438.61" width="4.10" height="43.09" fill="#38a8e0"/>
<line x1="42.50" y1="439.04" x2="42.50" y2="436.91" stroke="#222" stroke-width="0.8"/>
<line x1="41.30" y1="436.50" x2="44.50" y2="436.50" stroke="#222" stroke-width="0.8"/>
<line x1="41.30" y1="439.50" x2="44.50" y2="439.50" stroke="#222" stroke-width="0.8"/>
<circle cx="41.70" cy="436.91" r="1.44" fill="none" stroke="#222" stroke-width="0.8"/>
<circle cx="44.10" cy="437.62" r="1.44" fill="none" stroke="#222" stroke-width="0.8"/>
<circle cx="42.90" cy="438.33" r="1.44" fill="none" stroke="#222" stroke-width="0.8"/>
<circle cx="42.10" cy="439.04" r="1.44" fill="none" stroke="#222" stroke-width="0.8"/>
<rect x="47.85" y="436.76" width="4.10" height="44.94" fill="#c8102e"/>
<line x1="49.50" y1="438.33" x2="49.50" y2="434.06" stroke="#222" stroke-width="0.8"/>
<line x1="48.30" y1="434.50" x2="51.50" y2="434.50" stroke="#222" stroke-width="0.8"/>
<line x1="48.30" y1="438.50" x2="51.50" y2="438.50" stroke="#222" stroke-width="0.8"/>
<path d="M48.70 432.42 L50.28 435.16 L47.12 435.16 Z" fill="none" stroke="#222" stroke-width="0.7"/>
<path d="M51.10 433.84 L52.68 436.58 L49.52 436.58 Z" fill="none" stroke="#222" stroke-width="0.7"/>
<path d="M49.90 435.27 L51.48 438.00 L48.32 438.00 Z" fill="none" stroke="#222" stroke-width="0.7"/>
<path d="M49.10 435.98 L50.68 438.71 L47.52 438.71 Z" fill="none" stroke="#222" stroke-width="0.7"/>
<line x1="68.50" y1="481.70" x2="68.50" y2="483.90" stroke="#333" stroke-width="0.9"/>
<text x="71.95" y="491.90" font-size="6.8" text-anchor="end" fill="#333" font-weight="normal" stroke="#333" stroke-width="0.12" transform="rotate(-45 71.95 491.90)">Day 28</text>
<rect x="66.10" y="436.48" width="4.10" height="45.22" fill="#38a8e0"/>
<line x1="68.50" y1="438.33" x2="68.50" y2="431.93" stroke="#222" stroke-width="0.8"/>
<line x1="66.55" y1="431.50" x2="69.75" y2="431.50" stroke="#222" stroke-width="0.8"/>
<line x1="66.55" y1="438.50" x2="69.75" y2="438.50" stroke="#222" stroke-width="0.8"/>
<circle cx="66.95" cy="431.93" r="1.44" fill="none" stroke="#222" stroke-width="0.8"/>
<circle cx="69.35" cy="434.77" r="1.44" fill="none" stroke="#222" stroke-width="0.8"/>
<circle cx="68.15" cy="436.91" r="1.44" fill="none" stroke="#222" stroke-width="0.8"/>
<circle cx="67.35" cy="437.62" r="1.44" fill="none" stroke="#222" stroke-width="0.8"/>
<rect x="73.10" y="434.21" width="4.10" height="47.49" fill="#c8102e"/>
<line x1="75.50" y1="441.88" x2="75.50" y2="431.93" stroke="#222" stroke-width="0.8"/>
<line x1="73.55" y1="431.50" x2="76.75" y2="431.50" stroke="#222" stroke-width="0.8"/>
<line x1="73.55" y1="441.50" x2="76.75" y2="441.50" stroke="#222" stroke-width="0.8"/>
<path d="M73.95 430.29 L75.53 433.02 L72.37 433.02 Z" fill="none" stroke="#222" stroke-width="0.7"/>
<path d="M76.35 431.71 L77.93 434.45 L74.77 434.45 Z" fill="none" stroke="#222" stroke-width="0.7"/>
<path d="M75.15 433.13 L76.73 435.87 L73.57 435.87 Z" fill="none" stroke="#222" stroke-width="0.7"/>
<path d="M74.35 440.24 L75.93 442.98 L72.77 442.98 Z" fill="none" stroke="#222" stroke-width="0.7"/>
<line x1="93.50" y1="481.70" x2="93.50" y2="483.90" stroke="#333" stroke-width="0.9"/>
<text x="97.05" y="491.90" font-size="6.8" text-anchor="end" fill="#333" font-weight="normal" stroke="#333" stroke-width="0.12" transform="rotate(-45 97.05 491.90)">Day 56</text>
<rect x="91.20" y="436.48" width="4.10" height="45.22" fill="#38a8e0"/>
<line x1="93.50" y1="438.33" x2="93.50" y2="432.64" stroke="#222" stroke-width="0.8"/>
<line x1="91.65" y1="432.50" x2="94.85" y2="432.50" stroke="#222" stroke-width="0.8"/>
<line x1="91.65" y1="438.50" x2="94.85" y2="438.50" stroke="#222" stroke-width="0.8"/>
<circle cx="92.05" cy="432.64" r="1.44" fill="none" stroke="#222" stroke-width="0.8"/>
<circle cx="94.45" cy="434.77" r="1.44" fill="none" stroke="#222" stroke-width="0.8"/>
<circle cx="93.25" cy="436.91" r="1.44" fill="none" stroke="#222" stroke-width="0.8"/>
<circle cx="92.45" cy="437.62" r="1.44" fill="none" stroke="#222" stroke-width="0.8"/>
<rect x="98.20" y="433.35" width="4.10" height="48.35" fill="#c8102e"/>
<line x1="100.50" y1="440.46" x2="100.50" y2="431.22" stroke="#222" stroke-width="0.8"/>
<line x1="98.65" y1="431.50" x2="101.85" y2="431.50" stroke="#222" stroke-width="0.8"/>
<line x1="98.65" y1="440.50" x2="101.85" y2="440.50" stroke="#222" stroke-width="0.8"/>
<path d="M99.05 429.58 L100.63 432.31 L97.47 432.31 Z" fill="none" stroke="#222" stroke-width="0.7"/>
<path d="M101.45 431.00 L103.03 433.74 L99.87 433.74 Z" fill="none" stroke="#222" stroke-width="0.7"/>
<path d="M100.25 433.13 L101.83 435.87 L98.67 435.87 Z" fill="none" stroke="#222" stroke-width="0.7"/>
<path d="M99.45 438.82 L101.03 441.56 L97.87 441.56 Z" fill="none" stroke="#222" stroke-width="0.7"/>
<text x="16.60" y="444.30" font-size="8.6" text-anchor="middle" fill="#444" font-weight="normal" stroke="#444" stroke-width="0.12" transform="rotate(-90 16.60 444.30)" textLength="69" lengthAdjust="spacingAndGlyphs">Serum albumin (g/dL)</text>
<line x1="137.50" y1="408.50" x2="137.50" y2="482.00" stroke="#333" stroke-width="1.0"/>
<line x1="134.60" y1="410.50" x2="137.20" y2="410.50" stroke="#333" stroke-width="1.0"/>
<text x="130.80" y="413.36" font-size="7.1" text-anchor="end" fill="#444" font-weight="normal" stroke="#444" stroke-width="0.12" textLength="8.49" lengthAdjust="spacingAndGlyphs">0.6</text>
<line x1="134.60" y1="434.50" x2="137.20" y2="434.50" stroke="#333" stroke-width="1.0"/>
<text x="130.80" y="437.09" font-size="7.1" text-anchor="end" fill="#444" font-weight="normal" stroke="#444" stroke-width="0.12" textLength="8.49" lengthAdjust="spacingAndGlyphs">0.4</text>
<line x1="134.60" y1="458.50" x2="137.20" y2="458.50" stroke="#333" stroke-width="1.0"/>
<text x="130.80" y="460.82" font-size="7.1" text-anchor="end" fill="#444" font-weight="normal" stroke="#444" stroke-width="0.12" textLength="8.49" lengthAdjust="spacingAndGlyphs">0.2</text>
<line x1="134.60" y1="482.50" x2="137.20" y2="482.50" stroke="#333" stroke-width="1.0"/>
<text x="130.80" y="484.56" font-size="7.1" text-anchor="end" fill="#444" font-weight="normal" stroke="#444" stroke-width="0.12" textLength="8.49" lengthAdjust="spacingAndGlyphs">0.0</text>
<line x1="137.20" y1="482.50" x2="209.70" y2="482.50" stroke="#333" stroke-width="1.0"/>
<line x1="148.50" y1="482.00" x2="148.50" y2="484.20" stroke="#333" stroke-width="0.9"/>
<text x="152.25" y="492.20" font-size="6.8" text-anchor="end" fill="#333" font-weight="normal" stroke="#333" stroke-width="0.12" transform="rotate(-45 152.25 492.20)">Day 0</text>
<rect x="139.30" y="439.28" width="4.10" height="42.72" fill="#3aaa3a"/>
<line x1="141.50" y1="446.40" x2="141.50" y2="434.53" stroke="#222" stroke-width="0.8"/>
<line x1="139.75" y1="434.50" x2="142.95" y2="434.50" stroke="#222" stroke-width="0.8"/>
<line x1="139.75" y1="446.50" x2="142.95" y2="446.50" stroke="#222" stroke-width="0.8"/>
<circle cx="140.15" cy="434.53" r="1.44" fill="#222" stroke="#222" stroke-width="0.5"/>
<circle cx="142.55" cy="434.53" r="1.44" fill="#222" stroke="#222" stroke-width="0.5"/>
<circle cx="141.35" cy="446.40" r="1.44" fill="#222" stroke="#222" stroke-width="0.5"/>
<circle cx="140.55" cy="446.40" r="1.44" fill="#222" stroke="#222" stroke-width="0.5"/>
<rect x="146.40" y="438.09" width="4.10" height="43.91" fill="#38a8e0"/>
<line x1="148.50" y1="446.40" x2="148.50" y2="427.41" stroke="#222" stroke-width="0.8"/>
<line x1="146.85" y1="427.50" x2="150.05" y2="427.50" stroke="#222" stroke-width="0.8"/>
<line x1="146.85" y1="446.50" x2="150.05" y2="446.50" stroke="#222" stroke-width="0.8"/>
<circle cx="147.25" cy="422.67" r="1.44" fill="none" stroke="#222" stroke-width="0.8"/>
<circle cx="149.65" cy="434.53" r="1.44" fill="none" stroke="#222" stroke-width="0.8"/>
<circle cx="148.45" cy="446.40" r="1.44" fill="none" stroke="#222" stroke-width="0.8"/>
<circle cx="147.65" cy="446.40" r="1.44" fill="none" stroke="#222" stroke-width="0.8"/>
<rect x="153.50" y="451.15" width="4.10" height="30.85" fill="#c8102e"/>
<line x1="155.50" y1="458.27" x2="155.50" y2="446.40" stroke="#222" stroke-width="0.8"/>
<line x1="153.95" y1="446.50" x2="157.15" y2="446.50" stroke="#222" stroke-width="0.8"/>
<line x1="153.95" y1="458.50" x2="157.15" y2="458.50" stroke="#222" stroke-width="0.8"/>
<path d="M154.35 444.76 L155.93 447.49 L152.77 447.49 Z" fill="none" stroke="#222" stroke-width="0.7"/>
<path d="M156.75 444.76 L158.33 447.49 L155.17 447.49 Z" fill="none" stroke="#222" stroke-width="0.7"/>
<path d="M155.55 456.63 L157.13 459.36 L153.97 459.36 Z" fill="none" stroke="#222" stroke-width="0.7"/>
<path d="M154.75 456.63 L156.33 459.36 L153.17 459.36 Z" fill="none" stroke="#222" stroke-width="0.7"/>
<line x1="174.50" y1="482.00" x2="174.50" y2="484.20" stroke="#333" stroke-width="0.9"/>
<text x="177.90" y="492.20" font-size="6.8" text-anchor="end" fill="#333" font-weight="normal" stroke="#333" stroke-width="0.12" transform="rotate(-45 177.90 492.20)">Day 28</text>
<rect x="172.05" y="454.71" width="4.10" height="27.29" fill="#38a8e0"/>
<line x1="174.50" y1="458.27" x2="174.50" y2="446.40" stroke="#222" stroke-width="0.8"/>
<line x1="172.50" y1="446.50" x2="175.70" y2="446.50" stroke="#222" stroke-width="0.8"/>
<line x1="172.50" y1="458.50" x2="175.70" y2="458.50" stroke="#222" stroke-width="0.8"/>
<circle cx="172.90" cy="446.40" r="1.44" fill="none" stroke="#222" stroke-width="0.8"/>
<circle cx="175.30" cy="458.27" r="1.44" fill="none" stroke="#222" stroke-width="0.8"/>
<circle cx="174.10" cy="458.27" r="1.44" fill="none" stroke="#222" stroke-width="0.8"/>
<circle cx="173.30" cy="458.27" r="1.44" fill="none" stroke="#222" stroke-width="0.8"/>
<rect x="179.15" y="460.64" width="4.10" height="21.36" fill="#c8102e"/>
<line x1="181.50" y1="470.13" x2="181.50" y2="458.27" stroke="#222" stroke-width="0.8"/>
<line x1="179.60" y1="458.50" x2="182.80" y2="458.50" stroke="#222" stroke-width="0.8"/>
<line x1="179.60" y1="470.50" x2="182.80" y2="470.50" stroke="#222" stroke-width="0.8"/>
<path d="M180.00 456.63 L181.58 459.36 L178.42 459.36 Z" fill="none" stroke="#222" stroke-width="0.7"/>
<path d="M182.40 456.63 L183.98 459.36 L180.82 459.36 Z" fill="none" stroke="#222" stroke-width="0.7"/>
<path d="M181.20 468.49 L182.78 471.23 L179.62 471.23 Z" fill="none" stroke="#222" stroke-width="0.7"/>
<path d="M180.40 468.49 L181.98 471.23 L178.82 471.23 Z" fill="none" stroke="#222" stroke-width="0.7"/>
<line x1="199.50" y1="482.00" x2="199.50" y2="484.20" stroke="#333" stroke-width="0.9"/>
<text x="203.05" y="492.20" font-size="6.8" text-anchor="end" fill="#333" font-weight="normal" stroke="#333" stroke-width="0.12" transform="rotate(-45 203.05 492.20)">Day 56</text>
<rect x="197.20" y="463.01" width="4.10" height="18.99" fill="#38a8e0"/>
<line x1="199.50" y1="470.13" x2="199.50" y2="458.27" stroke="#222" stroke-width="0.8"/>
<line x1="197.65" y1="458.50" x2="200.85" y2="458.50" stroke="#222" stroke-width="0.8"/>
<line x1="197.65" y1="470.50" x2="200.85" y2="470.50" stroke="#222" stroke-width="0.8"/>
<circle cx="198.05" cy="458.27" r="1.44" fill="none" stroke="#222" stroke-width="0.8"/>
<circle cx="200.45" cy="458.27" r="1.44" fill="none" stroke="#222" stroke-width="0.8"/>
<circle cx="199.25" cy="470.13" r="1.44" fill="none" stroke="#222" stroke-width="0.8"/>
<circle cx="198.45" cy="470.13" r="1.44" fill="none" stroke="#222" stroke-width="0.8"/>
<rect x="204.30" y="466.57" width="4.10" height="15.43" fill="#c8102e"/>
<line x1="206.50" y1="470.13" x2="206.50" y2="459.45" stroke="#222" stroke-width="0.8"/>
<line x1="204.75" y1="459.50" x2="207.95" y2="459.50" stroke="#222" stroke-width="0.8"/>
<line x1="204.75" y1="470.50" x2="207.95" y2="470.50" stroke="#222" stroke-width="0.8"/>
<path d="M205.15 457.81 L206.73 460.55 L203.57 460.55 Z" fill="none" stroke="#222" stroke-width="0.7"/>
<path d="M207.55 468.49 L209.13 471.23 L205.97 471.23 Z" fill="none" stroke="#222" stroke-width="0.7"/>
<path d="M206.35 468.49 L207.93 471.23 L204.77 471.23 Z" fill="none" stroke="#222" stroke-width="0.7"/>
<path d="M205.55 468.49 L207.13 471.23 L203.97 471.23 Z" fill="none" stroke="#222" stroke-width="0.7"/>
<text x="116.60" y="445.80" font-size="8.6" text-anchor="middle" fill="#444" font-weight="normal" stroke="#444" stroke-width="0.12" transform="rotate(-90 116.60 445.80)" textLength="90" lengthAdjust="spacingAndGlyphs">Serum total bilirubin (mg/dL)</text>
<text x="215.30" y="395.20" font-size="12.5" text-anchor="start" fill="#111" font-weight="bold">E</text>
<line x1="241.50" y1="409.20" x2="241.50" y2="444.50" stroke="#333" stroke-width="1.0"/>
<line x1="241.50" y1="450.30" x2="241.50" y2="482.00" stroke="#333" stroke-width="1.0"/>
<line x1="238.60" y1="410.50" x2="241.20" y2="410.50" stroke="#333" stroke-width="0.9"/>
<text x="234.80" y="413.36" font-size="7.1" text-anchor="end" fill="#444" font-weight="normal" stroke="#444" stroke-width="0.12" textLength="6.79" lengthAdjust="spacingAndGlyphs">28</text>
<line x1="238.60" y1="419.50" x2="241.20" y2="419.50" stroke="#333" stroke-width="0.9"/>
<text x="234.80" y="421.63" font-size="7.1" text-anchor="end" fill="#444" font-weight="normal" stroke="#444" stroke-width="0.12" textLength="6.79" lengthAdjust="spacingAndGlyphs">23</text>
<line x1="238.60" y1="427.50" x2="241.20" y2="427.50" stroke="#333" stroke-width="0.9"/>
<text x="234.80" y="429.91" font-size="7.1" text-anchor="end" fill="#444" font-weight="normal" stroke="#444" stroke-width="0.12" textLength="6.79" lengthAdjust="spacingAndGlyphs">18</text>
<line x1="238.60" y1="435.50" x2="241.20" y2="435.50" stroke="#333" stroke-width="0.9"/>
<text x="234.80" y="438.18" font-size="7.1" text-anchor="end" fill="#444" font-weight="normal" stroke="#444" stroke-width="0.12" textLength="6.79" lengthAdjust="spacingAndGlyphs">13</text>
<line x1="238.60" y1="443.50" x2="241.20" y2="443.50" stroke="#333" stroke-width="0.9"/>
<text x="234.80" y="446.46" font-size="7.1" text-anchor="end" fill="#444" font-weight="normal" stroke="#444" stroke-width="0.12" textLength="3.4" lengthAdjust="spacingAndGlyphs">8</text>
<line x1="238.60" y1="450.50" x2="241.20" y2="450.50" stroke="#333" stroke-width="0.9"/>
<text x="234.80" y="452.86" font-size="7.1" text-anchor="end" fill="#444" font-weight="normal" stroke="#444" stroke-width="0.12" textLength="3.4" lengthAdjust="spacingAndGlyphs">8</text>
<line x1="238.60" y1="458.50" x2="241.20" y2="458.50" stroke="#333" stroke-width="0.9"/>
<text x="234.80" y="460.78" font-size="7.1" text-anchor="end" fill="#444" font-weight="normal" stroke="#444" stroke-width="0.12" textLength="3.4" lengthAdjust="spacingAndGlyphs">6</text>
<line x1="238.60" y1="466.50" x2="241.20" y2="466.50" stroke="#333" stroke-width="0.9"/>
<text x="234.80" y="468.71" font-size="7.1" text-anchor="end" fill="#444" font-weight="normal" stroke="#444" stroke-width="0.12" textLength="3.4" lengthAdjust="spacingAndGlyphs">4</text>
<line x1="238.60" y1="474.50" x2="241.20" y2="474.50" stroke="#333" stroke-width="0.9"/>
<text x="234.80" y="476.63" font-size="7.1" text-anchor="end" fill="#444" font-weight="normal" stroke="#444" stroke-width="0.12" textLength="3.4" lengthAdjust="spacingAndGlyphs">2</text>
<line x1="238.60" y1="482.50" x2="241.20" y2="482.50" stroke="#333" stroke-width="0.9"/>
<text x="234.80" y="484.56" font-size="7.1" text-anchor="end" fill="#444" font-weight="normal" stroke="#444" stroke-width="0.12" textLength="3.4" lengthAdjust="spacingAndGlyphs">0</text>
<line x1="241.20" y1="482.50" x2="313.50" y2="482.50" stroke="#333" stroke-width="1.0"/>
<line x1="253.50" y1="482.00" x2="253.50" y2="484.20" stroke="#333" stroke-width="0.9"/>
<text x="257.00" y="492.20" font-size="6.8" text-anchor="end" fill="#333" font-weight="normal" stroke="#333" stroke-width="0.12" transform="rotate(-45 257.00 492.20)">Day 1</text>
<rect x="244.25" y="463.77" width="4.10" height="18.23" fill="#3aaa3a"/>
<line x1="246.50" y1="474.07" x2="246.50" y2="450.30" stroke="#444" stroke-width="0.85"/>
<line x1="244.70" y1="450.50" x2="247.90" y2="450.50" stroke="#444" stroke-width="0.85"/>
<line x1="244.70" y1="474.50" x2="247.90" y2="474.50" stroke="#444" stroke-width="0.85"/>
<circle cx="245.10" cy="439.76" r="1.44" fill="#222" stroke="#222" stroke-width="0.5"/>
<circle cx="247.50" cy="460.21" r="1.44" fill="#222" stroke="#222" stroke-width="0.5"/>
<circle cx="246.30" cy="466.15" r="1.44" fill="#222" stroke="#222" stroke-width="0.5"/>
<circle cx="245.50" cy="472.09" r="1.44" fill="#222" stroke="#222" stroke-width="0.5"/>
<circle cx="247.20" cy="480.02" r="1.44" fill="#222" stroke="#222" stroke-width="0.5"/>
<rect x="251.15" y="463.77" width="4.10" height="18.23" fill="#38a8e0"/>
<line x1="253.50" y1="480.02" x2="253.50" y2="461.00" stroke="#444" stroke-width="0.85"/>
<line x1="251.60" y1="460.50" x2="254.80" y2="460.50" stroke="#444" stroke-width="0.85"/>
<line x1="251.60" y1="480.50" x2="254.80" y2="480.50" stroke="#444" stroke-width="0.85"/>
<circle cx="252.00" cy="462.19" r="1.44" fill="none" stroke="#222" stroke-width="0.8"/>
<circle cx="254.40" cy="463.38" r="1.44" fill="none" stroke="#222" stroke-width="0.8"/>
<circle cx="253.20" cy="466.15" r="1.44" fill="none" stroke="#222" stroke-width="0.8"/>
<circle cx="252.40" cy="470.11" r="1.44" fill="none" stroke="#222" stroke-width="0.8"/>
<circle cx="254.10" cy="480.81" r="1.44" fill="none" stroke="#222" stroke-width="0.8"/>
<rect x="258.05" y="466.74" width="4.10" height="15.26" fill="#c8102e"/>
<line x1="260.50" y1="472.09" x2="260.50" y2="462.19" stroke="#444" stroke-width="0.85"/>
<line x1="258.50" y1="462.50" x2="261.70" y2="462.50" stroke="#444" stroke-width="0.85"/>
<line x1="258.50" y1="472.50" x2="261.70" y2="472.50" stroke="#444" stroke-width="0.85"/>
<path d="M258.90 460.55 L260.48 463.28 L257.32 463.28 Z" fill="none" stroke="#222" stroke-width="0.7"/>
<path d="M261.30 462.92 L262.88 465.66 L259.72 465.66 Z" fill="none" stroke="#222" stroke-width="0.7"/>
<path d="M260.10 464.51 L261.68 467.24 L258.52 467.24 Z" fill="none" stroke="#222" stroke-width="0.7"/>
<path d="M259.30 468.47 L260.88 471.21 L257.72 471.21 Z" fill="none" stroke="#222" stroke-width="0.7"/>
<path d="M261.00 470.45 L262.58 473.19 L259.42 473.19 Z" fill="none" stroke="#222" stroke-width="0.7"/>
<line x1="278.50" y1="482.00" x2="278.50" y2="484.20" stroke="#333" stroke-width="0.9"/>
<text x="282.35" y="492.20" font-size="6.8" text-anchor="end" fill="#333" font-weight="normal" stroke="#333" stroke-width="0.12" transform="rotate(-45 282.35 492.20)">Day 6</text>
<rect x="276.50" y="450.30" width="4.10" height="31.70" fill="#38a8e0"/>
<rect x="276.50" y="439.76" width="4.10" height="4.74" fill="#38a8e0"/>
<line x1="278.50" y1="470.11" x2="278.50" y2="450.30" stroke="#222" stroke-width="0.8"/>
<line x1="278.50" y1="444.50" x2="278.50" y2="424.87" stroke="#222" stroke-width="0.8"/>
<line x1="276.95" y1="424.50" x2="280.15" y2="424.50" stroke="#222" stroke-width="0.8"/>
<circle cx="277.35" cy="417.42" r="1.44" fill="none" stroke="#222" stroke-width="0.8"/>
<circle cx="279.75" cy="440.59" r="1.44" fill="none" stroke="#222" stroke-width="0.8"/>
<circle cx="278.55" cy="441.25" r="1.44" fill="none" stroke="#222" stroke-width="0.8"/>
<circle cx="277.75" cy="453.47" r="1.44" fill="none" stroke="#222" stroke-width="0.8"/>
<circle cx="279.45" cy="456.64" r="1.44" fill="none" stroke="#222" stroke-width="0.8"/>
<circle cx="278.85" cy="459.81" r="1.44" fill="none" stroke="#222" stroke-width="0.8"/>
<circle cx="277.35" cy="462.98" r="1.44" fill="none" stroke="#222" stroke-width="0.8"/>
<circle cx="279.75" cy="466.15" r="1.44" fill="none" stroke="#222" stroke-width="0.8"/>
<circle cx="278.55" cy="469.32" r="1.44" fill="none" stroke="#222" stroke-width="0.8"/>
<circle cx="277.75" cy="472.49" r="1.44" fill="none" stroke="#222" stroke-width="0.8"/>
<rect x="283.40" y="467.34" width="4.10" height="14.66" fill="#c8102e"/>
<line x1="285.50" y1="472.09" x2="285.50" y2="465.36" stroke="#444" stroke-width="0.85"/>
<line x1="283.85" y1="465.50" x2="287.05" y2="465.50" stroke="#444" stroke-width="0.85"/>
<line x1="283.85" y1="472.50" x2="287.05" y2="472.50" stroke="#444" stroke-width="0.85"/>
<path d="M284.25 453.02 L285.83 455.75 L282.67 455.75 Z" fill="none" stroke="#222" stroke-width="0.7"/>
<path d="M286.65 466.09 L288.23 468.83 L285.07 468.83 Z" fill="none" stroke="#222" stroke-width="0.7"/>
<path d="M285.45 468.47 L287.03 471.21 L283.87 471.21 Z" fill="none" stroke="#222" stroke-width="0.7"/>
<path d="M284.65 470.06 L286.23 472.79 L283.07 472.79 Z" fill="none" stroke="#222" stroke-width="0.7"/>
<line x1="303.50" y1="482.00" x2="303.50" y2="484.20" stroke="#333" stroke-width="0.9"/>
<text x="307.55" y="492.20" font-size="6.8" text-anchor="end" fill="#333" font-weight="normal" stroke="#333" stroke-width="0.12" transform="rotate(-45 307.55 492.20)">Day 11</text>
<rect x="301.70" y="471.70" width="4.10" height="10.30" fill="#38a8e0"/>
<line x1="303.50" y1="482.00" x2="303.50" y2="450.30" stroke="#444" stroke-width="0.85"/>
<line x1="302.15" y1="450.50" x2="305.35" y2="450.50" stroke="#444" stroke-width="0.85"/>
<line x1="302.15" y1="482.50" x2="305.35" y2="482.50" stroke="#444" stroke-width="0.85"/>
<circle cx="302.55" cy="462.19" r="1.44" fill="none" stroke="#222" stroke-width="0.8"/>
<circle cx="304.95" cy="467.74" r="1.44" fill="none" stroke="#222" stroke-width="0.8"/>
<circle cx="303.75" cy="474.07" r="1.44" fill="none" stroke="#222" stroke-width="0.8"/>
<circle cx="302.95" cy="480.02" r="1.44" fill="none" stroke="#222" stroke-width="0.8"/>
<rect x="308.60" y="457.04" width="4.10" height="24.96" fill="#c8102e"/>
<line x1="310.50" y1="459.02" x2="310.50" y2="455.85" stroke="#444" stroke-width="0.85"/>
<line x1="309.05" y1="455.50" x2="312.25" y2="455.50" stroke="#444" stroke-width="0.85"/>
<line x1="309.05" y1="459.50" x2="312.25" y2="459.50" stroke="#444" stroke-width="0.85"/>
<path d="M309.45 450.24 L311.03 452.98 L307.87 452.98 Z" fill="none" stroke="#222" stroke-width="0.7"/>
<path d="M311.85 450.24 L313.43 452.98 L310.27 452.98 Z" fill="none" stroke="#222" stroke-width="0.7"/>
<path d="M310.65 455.79 L312.23 458.53 L309.07 458.53 Z" fill="none" stroke="#222" stroke-width="0.7"/>
<path d="M309.85 456.98 L311.43 459.72 L308.27 459.72 Z" fill="none" stroke="#222" stroke-width="0.7"/>
<text x="223.30" y="443.60" font-size="8.6" text-anchor="middle" fill="#444" font-weight="normal" stroke="#444" stroke-width="0.12" transform="rotate(-90 223.30 443.60)" textLength="71" lengthAdjust="spacingAndGlyphs">Serum TNF-α (pg/mL)</text>
<line x1="302.80" y1="441.50" x2="310.50" y2="441.50" stroke="#333" stroke-width="0.8"/>
<line x1="302.50" y1="440.20" x2="302.50" y2="442.80" stroke="#333" stroke-width="0.8"/>
<line x1="310.50" y1="440.20" x2="310.50" y2="442.80" stroke="#333" stroke-width="0.8"/>
<circle cx="305.20" cy="438.30" r="0.95" fill="#444"/>
<circle cx="308.00" cy="438.30" r="0.95" fill="#444"/>
<line x1="352.50" y1="408.70" x2="352.50" y2="443.30" stroke="#333" stroke-width="1.0"/>
<line x1="352.50" y1="449.30" x2="352.50" y2="481.30" stroke="#333" stroke-width="1.0"/>
<line x1="349.70" y1="410.50" x2="352.30" y2="410.50" stroke="#333" stroke-width="0.9"/>
<text x="345.90" y="413.36" font-size="7.1" text-anchor="end" fill="#444" font-weight="normal" stroke="#444" stroke-width="0.12" textLength="13.58" lengthAdjust="spacingAndGlyphs">3002</text>
<line x1="349.70" y1="421.50" x2="352.30" y2="421.50" stroke="#333" stroke-width="0.9"/>
<text x="345.90" y="424.19" font-size="7.1" text-anchor="end" fill="#444" font-weight="normal" stroke="#444" stroke-width="0.12" textLength="13.58" lengthAdjust="spacingAndGlyphs">2002</text>
<line x1="349.70" y1="432.50" x2="352.30" y2="432.50" stroke="#333" stroke-width="0.9"/>
<text x="345.90" y="435.02" font-size="7.1" text-anchor="end" fill="#444" font-weight="normal" stroke="#444" stroke-width="0.12" textLength="13.58" lengthAdjust="spacingAndGlyphs">1002</text>
<line x1="349.70" y1="443.50" x2="352.30" y2="443.50" stroke="#333" stroke-width="0.9"/>
<text x="345.90" y="445.86" font-size="7.1" text-anchor="end" fill="#444" font-weight="normal" stroke="#444" stroke-width="0.12" textLength="3.4" lengthAdjust="spacingAndGlyphs">2</text>
<line x1="349.70" y1="449.50" x2="352.30" y2="449.50" stroke="#333" stroke-width="0.9"/>
<text x="345.90" y="452.46" font-size="7.1" text-anchor="end" fill="#444" font-weight="normal" stroke="#444" stroke-width="0.12" textLength="8.49" lengthAdjust="spacingAndGlyphs">2.0</text>
<line x1="349.70" y1="456.50" x2="352.30" y2="456.50" stroke="#333" stroke-width="0.9"/>
<text x="345.90" y="458.81" font-size="7.1" text-anchor="end" fill="#444" font-weight="normal" stroke="#444" stroke-width="0.12" textLength="8.49" lengthAdjust="spacingAndGlyphs">1.5</text>
<line x1="349.70" y1="462.50" x2="352.30" y2="462.50" stroke="#333" stroke-width="0.9"/>
<text x="345.90" y="465.16" font-size="7.1" text-anchor="end" fill="#444" font-weight="normal" stroke="#444" stroke-width="0.12" textLength="8.49" lengthAdjust="spacingAndGlyphs">1.0</text>
<line x1="349.70" y1="468.50" x2="352.30" y2="468.50" stroke="#333" stroke-width="0.9"/>
<text x="345.90" y="471.51" font-size="7.1" text-anchor="end" fill="#444" font-weight="normal" stroke="#444" stroke-width="0.12" textLength="8.49" lengthAdjust="spacingAndGlyphs">0.5</text>
<line x1="349.70" y1="475.50" x2="352.30" y2="475.50" stroke="#333" stroke-width="0.9"/>
<text x="345.90" y="477.86" font-size="7.1" text-anchor="end" fill="#444" font-weight="normal" stroke="#444" stroke-width="0.12" textLength="8.49" lengthAdjust="spacingAndGlyphs">0.0</text>
<line x1="349.70" y1="481.50" x2="352.30" y2="481.50" stroke="#333" stroke-width="0.9"/>
<text x="345.90" y="484.21" font-size="7.1" text-anchor="end" fill="#444" font-weight="normal" stroke="#444" stroke-width="0.12" textLength="12.05" lengthAdjust="spacingAndGlyphs">&#8722;0.5</text>
<line x1="352.30" y1="481.50" x2="425.50" y2="481.50" stroke="#333" stroke-width="1.0"/>
<line x1="352.30" y1="475.50" x2="425.50" y2="475.50" stroke="#333" stroke-width="1.0"/>
<line x1="363.50" y1="481.30" x2="363.50" y2="483.50" stroke="#333" stroke-width="0.9"/>
<text x="367.60" y="491.50" font-size="6.8" text-anchor="end" fill="#333" font-weight="normal" stroke="#333" stroke-width="0.12" transform="rotate(-45 367.60 491.50)">Day 1</text>
<rect x="354.85" y="464.76" width="4.10" height="10.54" fill="#3aaa3a"/>
<line x1="356.50" y1="475.30" x2="356.50" y2="456.25" stroke="#444" stroke-width="0.85"/>
<line x1="355.30" y1="456.50" x2="358.50" y2="456.50" stroke="#444" stroke-width="0.85"/>
<line x1="355.30" y1="475.50" x2="358.50" y2="475.50" stroke="#444" stroke-width="0.85"/>
<circle cx="355.70" cy="453.71" r="1.44" fill="#222" stroke="#222" stroke-width="0.5"/>
<circle cx="358.10" cy="456.25" r="1.44" fill="#222" stroke="#222" stroke-width="0.5"/>
<circle cx="356.90" cy="462.60" r="1.44" fill="#222" stroke="#222" stroke-width="0.5"/>
<circle cx="356.10" cy="468.95" r="1.44" fill="#222" stroke="#222" stroke-width="0.5"/>
<circle cx="357.80" cy="475.30" r="1.44" fill="#222" stroke="#222" stroke-width="0.5"/>
<rect x="361.75" y="470.86" width="4.10" height="4.44" fill="#38a8e0"/>
<line x1="363.50" y1="475.30" x2="363.50" y2="468.31" stroke="#444" stroke-width="0.85"/>
<line x1="362.20" y1="468.50" x2="365.40" y2="468.50" stroke="#444" stroke-width="0.85"/>
<line x1="362.20" y1="475.50" x2="365.40" y2="475.50" stroke="#444" stroke-width="0.85"/>
<circle cx="362.60" cy="465.14" r="1.44" fill="none" stroke="#222" stroke-width="0.8"/>
<circle cx="365.00" cy="468.95" r="1.44" fill="none" stroke="#222" stroke-width="0.8"/>
<circle cx="363.80" cy="474.03" r="1.44" fill="none" stroke="#222" stroke-width="0.8"/>
<circle cx="363.00" cy="475.30" r="1.44" fill="none" stroke="#222" stroke-width="0.8"/>
<rect x="368.65" y="464.76" width="4.10" height="10.54" fill="#c8102e"/>
<line x1="370.50" y1="475.30" x2="370.50" y2="457.52" stroke="#444" stroke-width="0.85"/>
<line x1="369.10" y1="457.50" x2="372.30" y2="457.50" stroke="#444" stroke-width="0.85"/>
<line x1="369.10" y1="475.50" x2="372.30" y2="475.50" stroke="#444" stroke-width="0.85"/>
<path d="M369.50 455.88 L371.08 458.61 L367.92 458.61 Z" fill="none" stroke="#222" stroke-width="0.7"/>
<path d="M371.90 455.88 L373.48 458.61 L370.32 458.61 Z" fill="none" stroke="#222" stroke-width="0.7"/>
<path d="M370.70 463.50 L372.28 466.23 L369.12 466.23 Z" fill="none" stroke="#222" stroke-width="0.7"/>
<path d="M369.90 467.31 L371.48 470.04 L368.32 470.04 Z" fill="none" stroke="#222" stroke-width="0.7"/>
<path d="M371.60 473.66 L373.18 476.39 L370.02 476.39 Z" fill="none" stroke="#222" stroke-width="0.7"/>
<line x1="389.50" y1="481.30" x2="389.50" y2="483.50" stroke="#333" stroke-width="0.9"/>
<text x="393.50" y="491.50" font-size="6.8" text-anchor="end" fill="#333" font-weight="normal" stroke="#333" stroke-width="0.12" transform="rotate(-45 393.50 491.50)">Day 6</text>
<rect x="387.65" y="449.30" width="4.10" height="26.00" fill="#38a8e0"/>
<rect x="387.65" y="434.66" width="4.10" height="8.64" fill="#38a8e0"/>
<line x1="389.50" y1="438.99" x2="389.50" y2="424.91" stroke="#444" stroke-width="0.85"/>
<line x1="388.10" y1="424.50" x2="391.30" y2="424.50" stroke="#444" stroke-width="0.85"/>
<line x1="388.10" y1="438.50" x2="391.30" y2="438.50" stroke="#444" stroke-width="0.85"/>
<circle cx="388.50" cy="417.32" r="1.44" fill="none" stroke="#222" stroke-width="0.8"/>
<circle cx="390.90" cy="432.49" r="1.44" fill="none" stroke="#222" stroke-width="0.8"/>
<circle cx="389.70" cy="435.74" r="1.44" fill="none" stroke="#222" stroke-width="0.8"/>
<circle cx="388.90" cy="437.91" r="1.44" fill="none" stroke="#222" stroke-width="0.8"/>
<circle cx="390.60" cy="440.07" r="1.44" fill="none" stroke="#222" stroke-width="0.8"/>
<rect x="394.55" y="449.90" width="4.10" height="25.40" fill="#c8102e"/>
<path d="M395.40 454.61 L396.98 457.34 L393.82 457.34 Z" fill="none" stroke="#222" stroke-width="0.7"/>
<path d="M397.80 473.66 L399.38 476.39 L396.22 476.39 Z" fill="none" stroke="#222" stroke-width="0.7"/>
<line x1="414.50" y1="481.30" x2="414.50" y2="483.50" stroke="#333" stroke-width="0.9"/>
<text x="418.55" y="491.50" font-size="6.8" text-anchor="end" fill="#333" font-weight="normal" stroke="#333" stroke-width="0.12" transform="rotate(-45 418.55 491.50)">Day 11</text>
<rect x="412.70" y="469.97" width="4.10" height="5.33" fill="#38a8e0"/>
<line x1="414.50" y1="475.30" x2="414.50" y2="456.25" stroke="#444" stroke-width="0.85"/>
<line x1="413.15" y1="456.50" x2="416.35" y2="456.50" stroke="#444" stroke-width="0.85"/>
<line x1="413.15" y1="475.50" x2="416.35" y2="475.50" stroke="#444" stroke-width="0.85"/>
<circle cx="413.55" cy="443.30" r="1.44" fill="none" stroke="#222" stroke-width="0.8"/>
<circle cx="415.95" cy="475.30" r="1.44" fill="none" stroke="#222" stroke-width="0.8"/>
<rect x="419.60" y="449.90" width="4.10" height="25.40" fill="#c8102e"/>
<path d="M396.30 440.81 L398.41 444.46 L394.19 444.46 Z" fill="#111" stroke="#111" stroke-width="0.5"/>
<path d="M421.70 439.11 L423.81 442.76 L419.59 442.76 Z" fill="#111" stroke="#111" stroke-width="0.5"/>
<text x="357.50" y="448.70" font-size="6.3" text-anchor="middle" fill="#444">#</text>
<line x1="414.20" y1="431.50" x2="421.10" y2="431.50" stroke="#333" stroke-width="0.8"/>
<line x1="414.50" y1="430.40" x2="414.50" y2="433.00" stroke="#333" stroke-width="0.8"/>
<line x1="421.50" y1="430.40" x2="421.50" y2="433.00" stroke="#333" stroke-width="0.8"/>
<circle cx="417.60" cy="428.50" r="0.95" fill="#444"/>
<text x="326.80" y="444.00" font-size="8.6" text-anchor="middle" fill="#444" font-weight="normal" stroke="#444" stroke-width="0.12" transform="rotate(-90 326.80 444.00)" textLength="65.5" lengthAdjust="spacingAndGlyphs">Serum IFN-γ (pg/mL)</text>
<circle cx="431.90" cy="435.20" r="1.5" fill="#333" stroke="#333" stroke-width="0.5"/>
<text x="435.00" y="437.50" font-size="6.8" text-anchor="start" fill="#333" font-weight="normal" stroke="#333" stroke-width="0.12">Untreated control</text>
<circle cx="431.90" cy="445.20" r="1.5" fill="none" stroke="#333" stroke-width="0.8"/>
<text x="435.00" y="447.50" font-size="6.8" text-anchor="start" fill="#333" font-weight="normal" stroke="#333" stroke-width="0.12">Isotype-ADC (0.5 mg/kg)</text>
<path d="M431.90 453.49 L433.55 456.34 L430.25 456.34 Z" fill="none" stroke="#333" stroke-width="0.7"/>
<text x="435.00" y="457.50" font-size="6.8" text-anchor="start" fill="#333" font-weight="normal" stroke="#333" stroke-width="0.12">CD45-ADC (1.5 mg/kg)</text>
<text x="7.60" y="526.60" font-size="12.5" text-anchor="start" fill="#111" font-weight="bold">F</text>
<line x1="48.50" y1="538.50" x2="48.50" y2="625.10" stroke="#333" stroke-width="1.0"/>
<line x1="46.00" y1="539.50" x2="48.60" y2="539.50" stroke="#333" stroke-width="1.0"/>
<text x="42.20" y="542.36" font-size="7.1" text-anchor="end" fill="#444" font-weight="normal" stroke="#444" stroke-width="0.12" textLength="8.49" lengthAdjust="spacingAndGlyphs">4.5</text>
<line x1="46.00" y1="556.50" x2="48.60" y2="556.50" stroke="#333" stroke-width="1.0"/>
<text x="42.20" y="559.42" font-size="7.1" text-anchor="end" fill="#444" font-weight="normal" stroke="#444" stroke-width="0.12" textLength="8.49" lengthAdjust="spacingAndGlyphs">3.5</text>
<line x1="46.00" y1="573.50" x2="48.60" y2="573.50" stroke="#333" stroke-width="1.0"/>
<text x="42.20" y="576.49" font-size="7.1" text-anchor="end" fill="#444" font-weight="normal" stroke="#444" stroke-width="0.12" textLength="8.49" lengthAdjust="spacingAndGlyphs">2.5</text>
<line x1="46.00" y1="591.50" x2="48.60" y2="591.50" stroke="#333" stroke-width="1.0"/>
<text x="42.20" y="593.56" font-size="7.1" text-anchor="end" fill="#444" font-weight="normal" stroke="#444" stroke-width="0.12" textLength="8.49" lengthAdjust="spacingAndGlyphs">1.5</text>
<line x1="46.00" y1="608.50" x2="48.60" y2="608.50" stroke="#333" stroke-width="1.0"/>
<text x="42.20" y="610.62" font-size="7.1" text-anchor="end" fill="#444" font-weight="normal" stroke="#444" stroke-width="0.12" textLength="8.49" lengthAdjust="spacingAndGlyphs">0.5</text>
<line x1="46.00" y1="625.50" x2="48.60" y2="625.50" stroke="#333" stroke-width="1.0"/>
<text x="42.20" y="627.69" font-size="7.1" text-anchor="end" fill="#444" font-weight="normal" stroke="#444" stroke-width="0.12" textLength="12.05" lengthAdjust="spacingAndGlyphs">&#8722;0.5</text>
<line x1="48.60" y1="616.50" x2="159.00" y2="616.50" stroke="#333" stroke-width="1.0"/>
<line x1="48.60" y1="625.50" x2="159.00" y2="625.50" stroke="#333" stroke-width="1.0"/>
<line x1="56.50" y1="625.10" x2="56.50" y2="627.30" stroke="#333" stroke-width="0.9"/>
<text x="60.70" y="635.30" font-size="6.8" text-anchor="end" fill="#333" font-weight="normal" stroke="#333" stroke-width="0.12" transform="rotate(-45 60.70 635.30)">Spleen</text>
<rect x="51.20" y="598.68" width="4.20" height="17.92" fill="#38a8e0"/>
<line x1="53.50" y1="616.60" x2="53.50" y2="591.00" stroke="#444" stroke-width="0.85"/>
<line x1="51.70" y1="591.50" x2="54.90" y2="591.50" stroke="#444" stroke-width="0.85"/>
<line x1="51.70" y1="616.50" x2="54.90" y2="616.50" stroke="#444" stroke-width="0.85"/>
<circle cx="52.50" cy="591.00" r="1.5" fill="none" stroke="#222" stroke-width="0.8"/>
<circle cx="54.10" cy="599.53" r="1.5" fill="none" stroke="#222" stroke-width="0.8"/>
<circle cx="53.30" cy="616.60" r="1.5" fill="none" stroke="#222" stroke-width="0.8"/>
<rect x="58.40" y="585.88" width="4.20" height="30.72" fill="#c8102e"/>
<line x1="60.50" y1="591.00" x2="60.50" y2="582.47" stroke="#444" stroke-width="0.85"/>
<line x1="58.90" y1="582.50" x2="62.10" y2="582.50" stroke="#444" stroke-width="0.85"/>
<line x1="58.90" y1="591.50" x2="62.10" y2="591.50" stroke="#444" stroke-width="0.85"/>
<path d="M59.70 580.76 L61.35 583.61 L58.05 583.61 Z" fill="none" stroke="#222" stroke-width="0.7"/>
<path d="M61.30 585.88 L62.95 588.73 L59.65 588.73 Z" fill="none" stroke="#222" stroke-width="0.7"/>
<line x1="75.50" y1="625.10" x2="75.50" y2="627.30" stroke="#333" stroke-width="0.9"/>
<text x="79.40" y="635.30" font-size="6.8" text-anchor="end" fill="#333" font-weight="normal" stroke="#333" stroke-width="0.12" transform="rotate(-45 79.40 635.30)">Lung</text>
<rect x="69.90" y="612.33" width="4.20" height="4.27" fill="#38a8e0"/>
<line x1="72.50" y1="616.60" x2="72.50" y2="608.07" stroke="#444" stroke-width="0.85"/>
<line x1="70.40" y1="608.50" x2="73.60" y2="608.50" stroke="#444" stroke-width="0.85"/>
<line x1="70.40" y1="616.50" x2="73.60" y2="616.50" stroke="#444" stroke-width="0.85"/>
<circle cx="71.20" cy="608.07" r="1.5" fill="none" stroke="#222" stroke-width="0.8"/>
<circle cx="72.80" cy="616.60" r="1.5" fill="none" stroke="#222" stroke-width="0.8"/>
<rect x="77.10" y="612.85" width="4.20" height="3.75" fill="#c8102e"/>
<line x1="79.50" y1="616.60" x2="79.50" y2="608.07" stroke="#444" stroke-width="0.85"/>
<line x1="77.60" y1="608.50" x2="80.80" y2="608.50" stroke="#444" stroke-width="0.85"/>
<line x1="77.60" y1="616.50" x2="80.80" y2="616.50" stroke="#444" stroke-width="0.85"/>
<path d="M78.40 606.36 L80.05 609.21 L76.75 609.21 Z" fill="none" stroke="#222" stroke-width="0.7"/>
<path d="M80.00 614.89 L81.65 617.74 L78.35 617.74 Z" fill="none" stroke="#222" stroke-width="0.7"/>
<line x1="94.50" y1="625.10" x2="94.50" y2="627.30" stroke="#333" stroke-width="0.9"/>
<text x="98.40" y="635.30" font-size="6.8" text-anchor="end" fill="#333" font-weight="normal" stroke="#333" stroke-width="0.12" transform="rotate(-45 98.40 635.30)">Liver</text>
<circle cx="90.20" cy="616.60" r="1.5" fill="none" stroke="#222" stroke-width="0.8"/>
<circle cx="91.80" cy="616.60" r="1.5" fill="none" stroke="#222" stroke-width="0.8"/>
<rect x="96.10" y="589.81" width="4.20" height="26.79" fill="#c8102e"/>
<line x1="98.50" y1="599.53" x2="98.50" y2="579.05" stroke="#444" stroke-width="0.85"/>
<line x1="96.60" y1="579.50" x2="99.80" y2="579.50" stroke="#444" stroke-width="0.85"/>
<line x1="96.60" y1="599.50" x2="99.80" y2="599.50" stroke="#444" stroke-width="0.85"/>
<path d="M97.40 580.76 L99.05 583.61 L95.75 583.61 Z" fill="none" stroke="#222" stroke-width="0.7"/>
<path d="M99.00 606.36 L100.65 609.21 L97.35 609.21 Z" fill="none" stroke="#222" stroke-width="0.7"/>
<line x1="113.50" y1="625.10" x2="113.50" y2="627.30" stroke="#333" stroke-width="0.9"/>
<text x="117.40" y="635.30" font-size="6.8" text-anchor="end" fill="#333" font-weight="normal" stroke="#333" stroke-width="0.12" transform="rotate(-45 117.40 635.30)">Colon</text>
<rect x="107.90" y="602.95" width="4.20" height="13.65" fill="#38a8e0"/>
<line x1="110.50" y1="608.07" x2="110.50" y2="599.53" stroke="#444" stroke-width="0.85"/>
<line x1="108.40" y1="599.50" x2="111.60" y2="599.50" stroke="#444" stroke-width="0.85"/>
<line x1="108.40" y1="608.50" x2="111.60" y2="608.50" stroke="#444" stroke-width="0.85"/>
<circle cx="109.20" cy="599.53" r="1.5" fill="none" stroke="#222" stroke-width="0.8"/>
<circle cx="110.80" cy="608.07" r="1.5" fill="none" stroke="#222" stroke-width="0.8"/>
<rect x="115.10" y="595.27" width="4.20" height="21.33" fill="#c8102e"/>
<line x1="117.50" y1="608.07" x2="117.50" y2="582.47" stroke="#444" stroke-width="0.85"/>
<line x1="115.60" y1="582.50" x2="118.80" y2="582.50" stroke="#444" stroke-width="0.85"/>
<line x1="115.60" y1="608.50" x2="118.80" y2="608.50" stroke="#444" stroke-width="0.85"/>
<path d="M116.40 580.76 L118.05 583.61 L114.75 583.61 Z" fill="none" stroke="#222" stroke-width="0.7"/>
<path d="M118.00 597.82 L119.65 600.67 L116.35 600.67 Z" fill="none" stroke="#222" stroke-width="0.7"/>
<line x1="132.50" y1="625.10" x2="132.50" y2="627.30" stroke="#333" stroke-width="0.9"/>
<text x="136.20" y="635.30" font-size="6.8" text-anchor="end" fill="#333" font-weight="normal" stroke="#333" stroke-width="0.12" transform="rotate(-45 136.20 635.30)">Ileum</text>
<rect x="126.70" y="602.95" width="4.20" height="13.65" fill="#38a8e0"/>
<line x1="128.50" y1="608.07" x2="128.50" y2="596.12" stroke="#444" stroke-width="0.85"/>
<line x1="127.20" y1="596.50" x2="130.40" y2="596.50" stroke="#444" stroke-width="0.85"/>
<line x1="127.20" y1="608.50" x2="130.40" y2="608.50" stroke="#444" stroke-width="0.85"/>
<circle cx="128.00" cy="591.00" r="1.5" fill="none" stroke="#222" stroke-width="0.8"/>
<circle cx="129.60" cy="608.07" r="1.5" fill="none" stroke="#222" stroke-width="0.8"/>
<rect x="133.90" y="605.51" width="4.20" height="11.09" fill="#c8102e"/>
<line x1="136.50" y1="608.07" x2="136.50" y2="601.24" stroke="#444" stroke-width="0.85"/>
<line x1="134.40" y1="601.50" x2="137.60" y2="601.50" stroke="#444" stroke-width="0.85"/>
<line x1="134.40" y1="608.50" x2="137.60" y2="608.50" stroke="#444" stroke-width="0.85"/>
<path d="M135.20 597.82 L136.85 600.67 L133.55 600.67 Z" fill="none" stroke="#222" stroke-width="0.7"/>
<path d="M136.80 606.36 L138.45 609.21 L135.15 609.21 Z" fill="none" stroke="#222" stroke-width="0.7"/>
<line x1="151.50" y1="625.10" x2="151.50" y2="627.30" stroke="#333" stroke-width="0.9"/>
<text x="154.90" y="635.30" font-size="6.8" text-anchor="end" fill="#333" font-weight="normal" stroke="#333" stroke-width="0.12" transform="rotate(-45 154.90 635.30)">Heart</text>
<rect x="145.40" y="616.09" width="4.20" height="0.51" fill="#38a8e0"/>
<line x1="147.50" y1="621.72" x2="147.50" y2="602.95" stroke="#444" stroke-width="0.85"/>
<line x1="145.90" y1="602.50" x2="149.10" y2="602.50" stroke="#444" stroke-width="0.85"/>
<line x1="145.90" y1="621.50" x2="149.10" y2="621.50" stroke="#444" stroke-width="0.85"/>
<circle cx="146.70" cy="599.53" r="1.5" fill="none" stroke="#222" stroke-width="0.8"/>
<circle cx="148.30" cy="616.60" r="1.5" fill="none" stroke="#222" stroke-width="0.8"/>
<rect x="152.60" y="611.31" width="4.20" height="5.29" fill="#c8102e"/>
<line x1="154.50" y1="616.60" x2="154.50" y2="608.07" stroke="#444" stroke-width="0.85"/>
<line x1="153.10" y1="608.50" x2="156.30" y2="608.50" stroke="#444" stroke-width="0.85"/>
<line x1="153.10" y1="616.50" x2="156.30" y2="616.50" stroke="#444" stroke-width="0.85"/>
<path d="M153.90 606.36 L155.55 609.21 L152.25 609.21 Z" fill="none" stroke="#222" stroke-width="0.7"/>
<path d="M155.50 614.89 L157.15 617.74 L153.85 617.74 Z" fill="none" stroke="#222" stroke-width="0.7"/>
<text x="70.00" y="532.00" font-size="8.7" text-anchor="start" fill="#222" font-weight="normal" stroke="#222" stroke-width="0.12" textLength="67.5" lengthAdjust="spacingAndGlyphs">Day 12 post-BMT</text>
<text x="25.10" y="581.30" font-size="8.6" text-anchor="middle" fill="#444" font-weight="normal" stroke="#444" stroke-width="0.12" transform="rotate(-90 25.10 581.30)" textLength="68" lengthAdjust="spacingAndGlyphs">Histopathology scores</text>
<line x1="53.20" y1="569.50" x2="61.60" y2="569.50" stroke="#333" stroke-width="0.8"/>
<line x1="53.50" y1="568.60" x2="53.50" y2="571.20" stroke="#333" stroke-width="0.8"/>
<line x1="61.50" y1="568.60" x2="61.50" y2="571.20" stroke="#333" stroke-width="0.8"/>
<circle cx="57.40" cy="566.40" r="0.95" fill="#444"/>
<line x1="90.00" y1="571.50" x2="98.40" y2="571.50" stroke="#333" stroke-width="0.8"/>
<line x1="90.50" y1="569.70" x2="90.50" y2="572.30" stroke="#333" stroke-width="0.8"/>
<line x1="98.50" y1="569.70" x2="98.50" y2="572.30" stroke="#333" stroke-width="0.8"/>
<circle cx="92.80" cy="567.50" r="0.95" fill="#444"/>
<circle cx="95.60" cy="567.50" r="0.95" fill="#444"/>
<line x1="221.50" y1="538.50" x2="221.50" y2="625.10" stroke="#333" stroke-width="1.0"/>
<line x1="218.40" y1="539.50" x2="221.00" y2="539.50" stroke="#333" stroke-width="1.0"/>
<text x="214.60" y="542.36" font-size="7.1" text-anchor="end" fill="#444" font-weight="normal" stroke="#444" stroke-width="0.12" textLength="8.49" lengthAdjust="spacingAndGlyphs">4.5</text>
<line x1="218.40" y1="556.50" x2="221.00" y2="556.50" stroke="#333" stroke-width="1.0"/>
<text x="214.60" y="559.42" font-size="7.1" text-anchor="end" fill="#444" font-weight="normal" stroke="#444" stroke-width="0.12" textLength="8.49" lengthAdjust="spacingAndGlyphs">3.5</text>
<line x1="218.40" y1="573.50" x2="221.00" y2="573.50" stroke="#333" stroke-width="1.0"/>
<text x="214.60" y="576.49" font-size="7.1" text-anchor="end" fill="#444" font-weight="normal" stroke="#444" stroke-width="0.12" textLength="8.49" lengthAdjust="spacingAndGlyphs">2.5</text>
<line x1="218.40" y1="591.50" x2="221.00" y2="591.50" stroke="#333" stroke-width="1.0"/>
<text x="214.60" y="593.56" font-size="7.1" text-anchor="end" fill="#444" font-weight="normal" stroke="#444" stroke-width="0.12" textLength="8.49" lengthAdjust="spacingAndGlyphs">1.5</text>
<line x1="218.40" y1="608.50" x2="221.00" y2="608.50" stroke="#333" stroke-width="1.0"/>
<text x="214.60" y="610.62" font-size="7.1" text-anchor="end" fill="#444" font-weight="normal" stroke="#444" stroke-width="0.12" textLength="8.49" lengthAdjust="spacingAndGlyphs">0.5</text>
<line x1="218.40" y1="625.50" x2="221.00" y2="625.50" stroke="#333" stroke-width="1.0"/>
<text x="214.60" y="627.69" font-size="7.1" text-anchor="end" fill="#444" font-weight="normal" stroke="#444" stroke-width="0.12" textLength="12.05" lengthAdjust="spacingAndGlyphs">&#8722;0.5</text>
<line x1="221.00" y1="616.50" x2="332.80" y2="616.50" stroke="#333" stroke-width="1.0"/>
<line x1="221.00" y1="625.50" x2="332.80" y2="625.50" stroke="#333" stroke-width="1.0"/>
<line x1="229.50" y1="625.10" x2="229.50" y2="627.30" stroke="#333" stroke-width="0.9"/>
<text x="233.70" y="635.30" font-size="6.8" text-anchor="end" fill="#333" font-weight="normal" stroke="#333" stroke-width="0.12" transform="rotate(-45 233.70 635.30)">Spleen</text>
<circle cx="225.50" cy="608.07" r="1.5" fill="none" stroke="#222" stroke-width="0.8"/>
<circle cx="227.10" cy="616.60" r="1.5" fill="none" stroke="#222" stroke-width="0.8"/>
<rect x="231.40" y="609.43" width="4.20" height="7.17" fill="#c8102e"/>
<line x1="233.50" y1="616.60" x2="233.50" y2="604.65" stroke="#444" stroke-width="0.85"/>
<line x1="231.90" y1="604.50" x2="235.10" y2="604.50" stroke="#444" stroke-width="0.85"/>
<line x1="231.90" y1="616.50" x2="235.10" y2="616.50" stroke="#444" stroke-width="0.85"/>
<path d="M232.70 597.82 L234.35 600.67 L231.05 600.67 Z" fill="none" stroke="#222" stroke-width="0.7"/>
<path d="M234.30 606.36 L235.95 609.21 L232.65 609.21 Z" fill="none" stroke="#222" stroke-width="0.7"/>
<line x1="248.50" y1="625.10" x2="248.50" y2="627.30" stroke="#333" stroke-width="0.9"/>
<text x="252.50" y="635.30" font-size="6.8" text-anchor="end" fill="#333" font-weight="normal" stroke="#333" stroke-width="0.12" transform="rotate(-45 252.50 635.30)">Lung</text>
<rect x="243.00" y="602.95" width="4.20" height="13.65" fill="#38a8e0"/>
<line x1="245.50" y1="616.60" x2="245.50" y2="577.86" stroke="#444" stroke-width="0.85"/>
<line x1="243.50" y1="577.50" x2="246.70" y2="577.50" stroke="#444" stroke-width="0.85"/>
<line x1="243.50" y1="616.50" x2="246.70" y2="616.50" stroke="#444" stroke-width="0.85"/>
<circle cx="244.30" cy="565.40" r="1.5" fill="none" stroke="#222" stroke-width="0.8"/>
<circle cx="245.90" cy="608.07" r="1.5" fill="none" stroke="#222" stroke-width="0.8"/>
<rect x="250.20" y="609.43" width="4.20" height="7.17" fill="#c8102e"/>
<line x1="252.50" y1="616.60" x2="252.50" y2="604.65" stroke="#444" stroke-width="0.85"/>
<line x1="250.70" y1="604.50" x2="253.90" y2="604.50" stroke="#444" stroke-width="0.85"/>
<line x1="250.70" y1="616.50" x2="253.90" y2="616.50" stroke="#444" stroke-width="0.85"/>
<path d="M251.50 597.82 L253.15 600.67 L249.85 600.67 Z" fill="none" stroke="#222" stroke-width="0.7"/>
<path d="M253.10 614.89 L254.75 617.74 L251.45 617.74 Z" fill="none" stroke="#222" stroke-width="0.7"/>
<line x1="266.50" y1="625.10" x2="266.50" y2="627.30" stroke="#333" stroke-width="0.9"/>
<text x="270.70" y="635.30" font-size="6.8" text-anchor="end" fill="#333" font-weight="normal" stroke="#333" stroke-width="0.12" transform="rotate(-45 270.70 635.30)">Liver</text>
<circle cx="262.50" cy="616.60" r="1.5" fill="none" stroke="#222" stroke-width="0.8"/>
<circle cx="264.10" cy="616.60" r="1.5" fill="none" stroke="#222" stroke-width="0.8"/>
<rect x="268.40" y="611.99" width="4.20" height="4.61" fill="#c8102e"/>
<line x1="270.50" y1="616.60" x2="270.50" y2="606.36" stroke="#444" stroke-width="0.85"/>
<line x1="268.90" y1="606.50" x2="272.10" y2="606.50" stroke="#444" stroke-width="0.85"/>
<line x1="268.90" y1="616.50" x2="272.10" y2="616.50" stroke="#444" stroke-width="0.85"/>
<path d="M269.70 597.82 L271.35 600.67 L268.05 600.67 Z" fill="none" stroke="#222" stroke-width="0.7"/>
<path d="M271.30 606.36 L272.95 609.21 L269.65 609.21 Z" fill="none" stroke="#222" stroke-width="0.7"/>
<line x1="285.50" y1="625.10" x2="285.50" y2="627.30" stroke="#333" stroke-width="0.9"/>
<text x="289.40" y="635.30" font-size="6.8" text-anchor="end" fill="#333" font-weight="normal" stroke="#333" stroke-width="0.12" transform="rotate(-45 289.40 635.30)">Colon</text>
<rect x="279.90" y="602.95" width="4.20" height="13.65" fill="#38a8e0"/>
<line x1="282.50" y1="608.07" x2="282.50" y2="599.53" stroke="#444" stroke-width="0.85"/>
<line x1="280.40" y1="599.50" x2="283.60" y2="599.50" stroke="#444" stroke-width="0.85"/>
<line x1="280.40" y1="608.50" x2="283.60" y2="608.50" stroke="#444" stroke-width="0.85"/>
<circle cx="281.20" cy="599.53" r="1.5" fill="none" stroke="#222" stroke-width="0.8"/>
<circle cx="282.80" cy="608.07" r="1.5" fill="none" stroke="#222" stroke-width="0.8"/>
<rect x="287.10" y="589.81" width="4.20" height="26.79" fill="#c8102e"/>
<line x1="289.50" y1="599.53" x2="289.50" y2="575.98" stroke="#444" stroke-width="0.85"/>
<line x1="287.60" y1="575.50" x2="290.80" y2="575.50" stroke="#444" stroke-width="0.85"/>
<line x1="287.60" y1="599.50" x2="290.80" y2="599.50" stroke="#444" stroke-width="0.85"/>
<path d="M288.40 563.69 L290.05 566.54 L286.75 566.54 Z" fill="none" stroke="#222" stroke-width="0.7"/>
<path d="M290.00 589.29 L291.65 592.14 L288.35 592.14 Z" fill="none" stroke="#222" stroke-width="0.7"/>
<line x1="304.50" y1="625.10" x2="304.50" y2="627.30" stroke="#333" stroke-width="0.9"/>
<text x="308.40" y="635.30" font-size="6.8" text-anchor="end" fill="#333" font-weight="normal" stroke="#333" stroke-width="0.12" transform="rotate(-45 308.40 635.30)">Ileum</text>
<rect x="298.90" y="599.53" width="4.20" height="17.07" fill="#38a8e0"/>
<line x1="301.50" y1="616.60" x2="301.50" y2="573.08" stroke="#444" stroke-width="0.85"/>
<line x1="299.40" y1="573.50" x2="302.60" y2="573.50" stroke="#444" stroke-width="0.85"/>
<line x1="299.40" y1="616.50" x2="302.60" y2="616.50" stroke="#444" stroke-width="0.85"/>
<circle cx="300.20" cy="548.33" r="1.5" fill="none" stroke="#222" stroke-width="0.8"/>
<circle cx="301.80" cy="608.07" r="1.5" fill="none" stroke="#222" stroke-width="0.8"/>
<rect x="306.10" y="592.19" width="4.20" height="24.41" fill="#c8102e"/>
<line x1="308.50" y1="599.53" x2="308.50" y2="582.47" stroke="#444" stroke-width="0.85"/>
<line x1="306.60" y1="582.50" x2="309.80" y2="582.50" stroke="#444" stroke-width="0.85"/>
<line x1="306.60" y1="599.50" x2="309.80" y2="599.50" stroke="#444" stroke-width="0.85"/>
<path d="M307.40 580.76 L309.05 583.61 L305.75 583.61 Z" fill="none" stroke="#222" stroke-width="0.7"/>
<path d="M309.00 597.82 L310.65 600.67 L307.35 600.67 Z" fill="none" stroke="#222" stroke-width="0.7"/>
<line x1="323.50" y1="625.10" x2="323.50" y2="627.30" stroke="#333" stroke-width="0.9"/>
<text x="327.00" y="635.30" font-size="6.8" text-anchor="end" fill="#333" font-weight="normal" stroke="#333" stroke-width="0.12" transform="rotate(-45 327.00 635.30)">Heart</text>
<circle cx="318.80" cy="616.60" r="1.5" fill="none" stroke="#222" stroke-width="0.8"/>
<circle cx="320.40" cy="616.60" r="1.5" fill="none" stroke="#222" stroke-width="0.8"/>
<path d="M326.00 614.89 L327.65 617.74 L324.35 617.74 Z" fill="none" stroke="#222" stroke-width="0.7"/>
<path d="M327.60 614.89 L329.25 617.74 L325.95 617.74 Z" fill="none" stroke="#222" stroke-width="0.7"/>
<text x="242.50" y="532.00" font-size="8.7" text-anchor="start" fill="#222" font-weight="normal" stroke="#222" stroke-width="0.12" textLength="68" lengthAdjust="spacingAndGlyphs">Day 78 post-BMT</text>
<text x="197.50" y="581.30" font-size="8.6" text-anchor="middle" fill="#444" font-weight="normal" stroke="#444" stroke-width="0.12" transform="rotate(-90 197.50 581.30)" textLength="68" lengthAdjust="spacingAndGlyphs">Histopathology scores</text>
<line x1="280.40" y1="559.50" x2="289.50" y2="559.50" stroke="#333" stroke-width="0.8"/>
<line x1="280.50" y1="557.70" x2="280.50" y2="560.30" stroke="#333" stroke-width="0.8"/>
<line x1="289.50" y1="557.70" x2="289.50" y2="560.30" stroke="#333" stroke-width="0.8"/>
<circle cx="285.00" cy="556.20" r="0.95" fill="#444"/>
<circle cx="350.60" cy="575.30" r="1.5" fill="none" stroke="#333" stroke-width="0.8"/>
<text x="354.00" y="577.60" font-size="6.8" text-anchor="start" fill="#333" font-weight="normal" stroke="#333" stroke-width="0.12">Isotype-ADC (0.5 mg/kg)</text>
<path d="M350.60 585.99 L352.25 588.84 L348.95 588.84 Z" fill="none" stroke="#333" stroke-width="0.7"/>
<text x="354.00" y="590.00" font-size="6.8" text-anchor="start" fill="#333" font-weight="normal" stroke="#333" stroke-width="0.12">CD45-ADC (1.5 mg/kg)</text>
<rect x="0.5" y="0.5" width="519" height="656" fill="none" stroke="#555" stroke-width="1"/>
</svg>
</body></html>
